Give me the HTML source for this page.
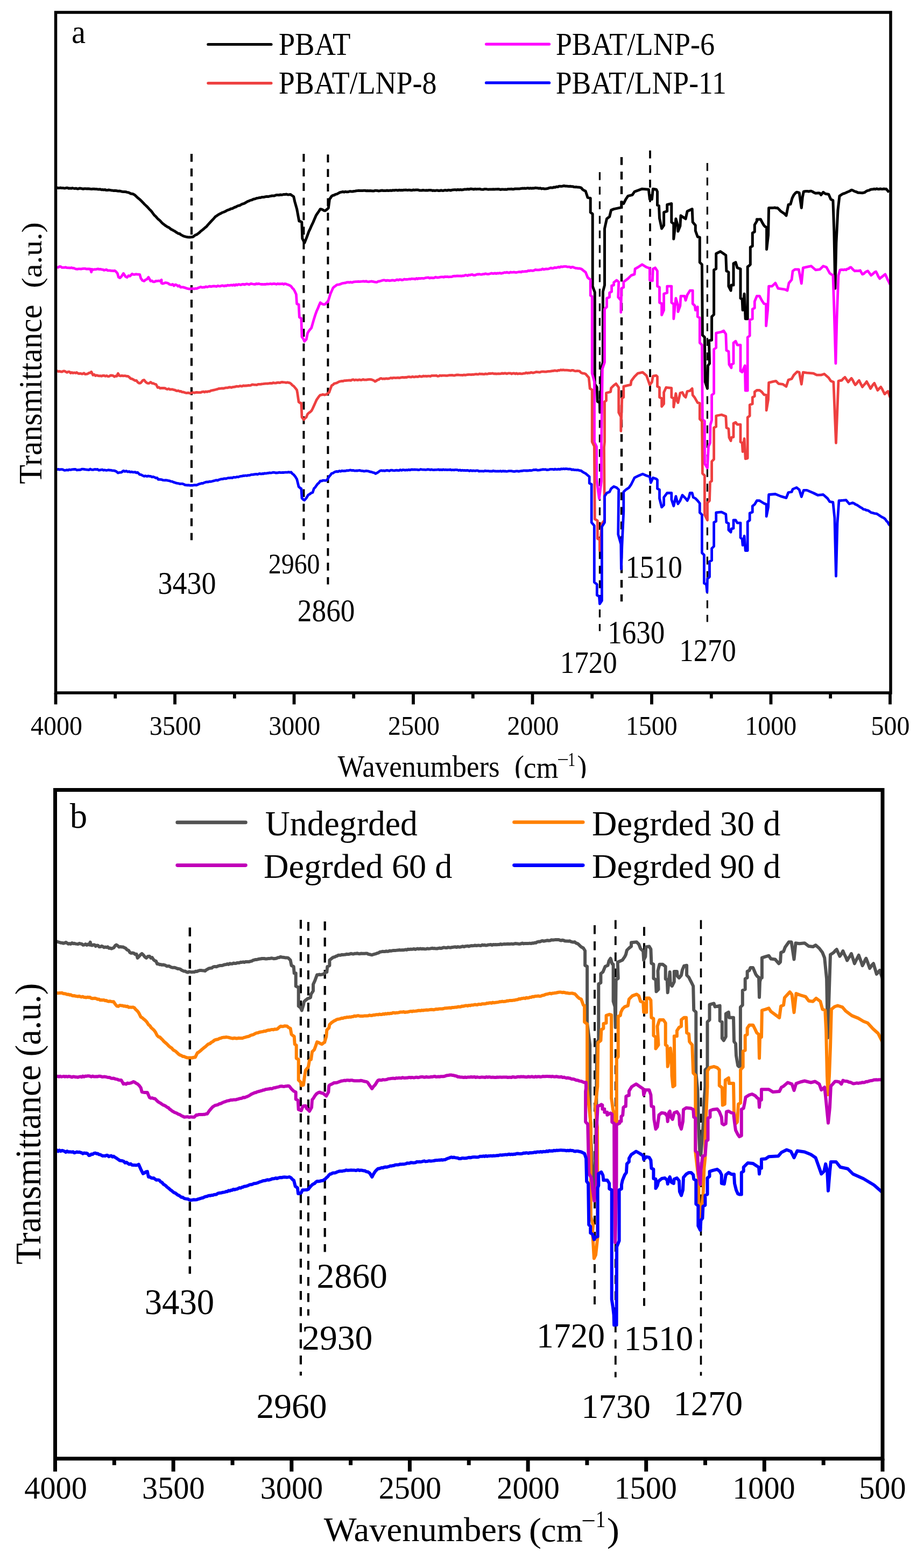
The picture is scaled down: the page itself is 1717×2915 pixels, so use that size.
<!DOCTYPE html><html><head><meta charset="utf-8"><title>FTIR spectra</title>
<style>html,body{margin:0;padding:0;background:#fff;}svg{display:block;}text{font-family:'Liberation Serif', 'Times New Roman', serif;fill:#000;}</style></head><body>
<svg width="1717" height="2915" viewBox="0 0 1717 2915">
<rect x="0" y="0" width="1717" height="2915" fill="#fff"/>
<line x1="355.9" y1="286.1" x2="355.9" y2="1004.3" stroke="#000" stroke-width="4.2" stroke-dasharray="14.7 12.4"/>
<line x1="564.4" y1="286.1" x2="564.4" y2="1003.4" stroke="#000" stroke-width="4.0" stroke-dasharray="14.7 12.4"/>
<line x1="609.4" y1="287.2" x2="609.4" y2="1086.4" stroke="#000" stroke-width="4.0" stroke-dasharray="14.7 12.4"/>
<line x1="1114.4" y1="320.0" x2="1114.4" y2="1173.3" stroke="#000" stroke-width="3.2" stroke-dasharray="14.7 12.4"/>
<line x1="1155.0" y1="292.0" x2="1155.0" y2="1118.3" stroke="#000" stroke-width="4.4" stroke-dasharray="14.7 12.4"/>
<line x1="1208.0" y1="279.8" x2="1208.0" y2="971.8" stroke="#000" stroke-width="3.8" stroke-dasharray="14.7 12.4"/>
<line x1="1314.4" y1="303.0" x2="1314.4" y2="1156.2" stroke="#000" stroke-width="3.2" stroke-dasharray="14.7 12.4"/>
<g id="curves-a">
<path d="M103.0,349.0 L105.2,348.7 L107.5,349.5 L109.7,349.5 L112.0,349.1 L114.2,349.4 L116.5,349.4 L118.7,349.7 L120.9,349.9 L123.2,349.3 L125.4,349.3 L127.7,350.2 L129.9,349.9 L132.2,350.3 L134.4,349.6 L136.6,350.1 L138.9,350.5 L141.1,350.1 L143.4,350.9 L145.6,350.9 L147.8,350.1 L150.1,350.2 L152.3,350.8 L154.6,351.3 L156.8,350.8 L159.1,350.7 L161.3,351.0 L163.5,350.7 L165.8,350.9 L168.0,351.2 L170.3,351.4 L172.5,351.2 L174.8,351.3 L177.0,351.6 L179.3,351.5 L181.6,351.9 L183.8,351.9 L186.1,351.8 L188.4,352.8 L190.7,352.6 L193.0,352.9 L195.2,352.6 L197.5,353.6 L199.8,353.6 L202.1,353.0 L204.4,353.4 L206.7,353.9 L208.9,354.1 L211.2,354.5 L213.5,354.2 L215.8,354.4 L218.1,355.1 L220.3,355.2 L222.6,355.1 L224.9,355.7 L227.2,356.2 L229.4,356.5 L231.7,356.4 L234.0,356.7 L236.2,357.5 L238.5,357.7 L240.7,358.7 L242.9,360.0 L245.1,360.3 L247.4,360.8 L249.6,361.9 L252.2,364.2 L254.8,366.6 L257.3,368.8 L259.9,370.9 L262.1,373.0 L264.3,375.3 L266.5,377.6 L268.8,380.0 L271.0,382.0 L273.2,384.1 L275.4,386.4 L277.6,389.0 L279.9,391.1 L282.1,393.7 L284.4,396.9 L286.6,399.8 L288.9,401.9 L291.1,404.3 L293.4,407.0 L296.0,409.0 L298.6,411.6 L301.1,414.4 L303.7,416.6 L306.3,418.6 L308.6,420.1 L310.9,421.8 L313.2,422.6 L315.5,424.3 L317.8,426.2 L320.1,427.3 L322.4,428.6 L324.7,429.8 L327.0,431.5 L329.2,432.7 L331.4,434.2 L333.6,434.3 L335.9,436.2 L338.1,437.4 L340.3,438.6 L342.5,439.3 L345.3,440.1 L348.2,440.7 L351.0,441.0 L353.3,440.9 L355.7,440.8 L358.0,440.6 L360.6,438.9 L363.1,436.9 L365.7,436.1 L368.3,434.1 L370.9,432.0 L373.4,429.5 L376.0,427.7 L378.6,425.5 L381.1,423.2 L383.7,421.2 L386.9,417.4 L390.0,414.0 L392.5,411.3 L395.1,408.6 L397.6,405.8 L400.1,402.9 L402.6,401.3 L405.1,399.4 L407.7,398.1 L410.2,396.8 L412.6,395.3 L415.0,394.5 L417.5,393.6 L419.9,392.3 L422.3,390.8 L424.6,390.2 L426.9,389.4 L429.2,387.9 L431.6,387.7 L433.9,386.6 L436.2,385.2 L438.5,384.7 L440.9,383.2 L443.2,382.2 L445.6,381.9 L448.0,380.4 L450.3,379.2 L452.7,378.6 L455.2,377.5 L457.8,375.9 L460.3,374.4 L462.8,373.6 L465.1,372.4 L467.5,371.9 L469.9,370.7 L472.2,370.0 L474.5,369.6 L476.9,368.5 L479.3,368.1 L481.7,367.6 L484.1,367.4 L486.5,366.6 L488.9,366.6 L491.2,366.2 L493.6,365.6 L496.0,365.2 L498.4,365.6 L500.8,364.9 L503.2,364.5 L505.4,363.9 L507.6,364.0 L509.8,364.0 L512.0,362.9 L514.2,362.6 L516.5,362.5 L518.7,362.7 L520.9,361.9 L523.1,362.2 L525.3,361.9 L527.5,361.4 L529.9,361.4 L532.3,361.1 L534.8,361.9 L537.2,361.7 L539.6,361.4 L542.7,363.5 L545.7,365.5 L547.7,374.6 L551.7,388.7 L555.8,411.0 L558.3,411.7 L560.8,413.0 L561.8,443.3 L565.9,451.4 L569.9,441.3 L574.0,430.2 L576.7,424.6 L579.3,418.6 L582.0,413.0 L584.5,407.0 L587.1,400.9 L589.8,396.7 L592.5,392.9 L595.2,388.7 L597.5,389.0 L599.8,390.0 L602.0,391.5 L604.3,391.8 L607.3,389.6 L610.3,386.7 L612.4,370.5 L616.4,364.5 L618.7,363.3 L621.0,362.8 L623.3,361.3 L625.7,360.9 L628.0,359.7 L630.3,358.3 L632.6,357.4 L634.9,357.0 L637.1,356.5 L639.4,357.2 L641.7,356.2 L644.0,356.8 L646.2,356.7 L648.5,356.2 L650.8,355.6 L653.1,356.1 L655.4,356.0 L657.6,355.5 L659.9,355.2 L662.2,354.8 L664.5,354.6 L666.7,354.3 L669.0,354.4 L671.3,354.6 L673.7,354.4 L676.0,354.2 L678.3,354.2 L680.7,354.8 L683.0,354.5 L685.3,354.7 L687.7,354.6 L690.0,354.8 L692.2,355.1 L694.5,355.1 L696.7,354.2 L698.9,354.3 L701.2,354.4 L703.4,355.0 L705.6,354.7 L707.9,354.2 L710.1,354.0 L712.4,354.5 L714.6,354.6 L716.8,354.6 L719.1,354.0 L721.3,354.5 L723.5,354.2 L725.8,354.0 L728.0,354.4 L730.2,353.6 L732.5,354.0 L734.7,353.4 L736.9,353.4 L739.2,354.1 L741.4,353.3 L743.7,353.8 L745.9,353.6 L748.1,353.8 L750.4,353.3 L752.6,353.2 L754.8,353.1 L757.1,353.6 L759.3,353.2 L761.5,353.3 L763.7,353.7 L766.0,353.7 L768.2,353.0 L770.4,353.4 L772.6,353.0 L774.8,353.0 L777.1,353.1 L779.3,353.9 L781.5,353.9 L783.7,354.0 L786.0,353.5 L788.2,353.8 L790.4,354.0 L792.6,353.7 L794.8,353.9 L797.1,353.6 L799.3,353.5 L801.5,353.7 L803.7,354.4 L806.0,354.1 L808.2,354.5 L810.4,354.1 L812.6,353.9 L814.8,354.5 L817.1,354.5 L819.3,353.8 L821.5,354.3 L823.8,354.4 L826.0,353.7 L828.3,353.6 L830.6,354.2 L832.8,353.3 L835.1,353.4 L837.3,354.0 L839.6,353.3 L841.9,352.9 L844.1,352.8 L846.4,352.8 L848.7,353.2 L850.9,352.4 L853.2,353.1 L855.5,352.5 L857.7,353.0 L860.0,352.8 L862.3,352.1 L864.5,351.9 L866.8,352.0 L869.0,351.5 L871.3,352.0 L873.6,351.3 L875.8,351.1 L878.1,351.5 L880.4,352.0 L882.6,351.3 L884.9,351.7 L887.2,351.5 L889.4,351.4 L891.7,351.2 L893.9,352.1 L896.2,352.2 L898.5,352.2 L900.7,351.4 L903.0,351.5 L905.3,351.9 L907.5,352.3 L909.8,351.9 L912.1,352.0 L914.3,352.0 L916.6,351.7 L918.9,352.0 L921.1,351.8 L923.4,351.7 L925.6,351.6 L927.9,351.8 L930.2,352.5 L932.4,352.0 L934.7,352.1 L936.9,352.2 L939.2,352.1 L941.4,352.3 L943.6,351.6 L945.8,351.4 L948.1,351.4 L950.3,351.3 L952.5,351.7 L954.7,351.7 L957.0,351.0 L959.2,350.9 L961.4,351.0 L963.6,351.0 L965.9,350.9 L968.1,350.5 L970.3,350.1 L972.5,350.3 L974.8,350.0 L977.0,350.4 L979.2,349.8 L981.4,349.7 L983.6,350.2 L985.9,349.8 L988.1,350.2 L990.3,349.8 L992.5,350.0 L994.8,349.2 L997.0,349.5 L999.4,349.8 L1001.7,350.3 L1004.1,349.8 L1006.5,350.9 L1008.8,350.4 L1011.2,351.0 L1013.5,350.9 L1015.8,350.8 L1018.1,350.3 L1020.4,349.4 L1022.7,348.8 L1025.0,348.9 L1027.3,348.9 L1029.6,347.9 L1031.9,348.2 L1034.2,347.1 L1036.5,347.5 L1038.8,346.3 L1041.1,346.2 L1043.4,346.4 L1045.7,346.0 L1048.0,345.3 L1050.3,346.0 L1052.6,346.1 L1054.9,346.3 L1057.2,346.5 L1059.5,346.3 L1061.9,346.8 L1064.2,346.7 L1066.5,347.6 L1068.8,347.8 L1071.1,347.6 L1073.4,348.1 L1076.7,348.2 L1080.0,349.2 L1082.4,352.0 L1084.8,353.8 L1088.1,355.3 L1092.1,367.4 L1097.2,368.4 L1097.2,394.7 L1101.2,397.7 L1101.2,532.1 L1105.3,543.3 L1105.3,714.1 L1109.3,720.1 L1110.3,746.4 L1114.4,748.4 L1114.8,766.6 L1118.4,681.7 L1120.4,673.6 L1120.4,542.2 L1123.5,530.1 L1123.5,425.0 L1127.5,406.8 L1132.6,402.8 L1135.6,390.6 L1140.6,388.6 L1154.8,385.6 L1154.8,375.5 L1158.8,378.5 L1162.9,370.4 L1166.9,364.4 L1175.0,362.3 L1179.0,356.3 L1193.2,351.2 L1205.3,352.2 L1207.4,370.4 L1211.4,370.4 L1213.4,351.2 L1219.5,352.2 L1221.5,356.3 L1221.5,381.5 L1224.5,382.6 L1225.5,405.8 L1229.6,425.0 L1233.6,418.9 L1233.6,394.7 L1239.7,392.7 L1239.7,380.5 L1247.8,378.5 L1247.8,412.9 L1251.8,415.9 L1251.8,444.2 L1254.9,418.9 L1255.9,406.8 L1259.9,421.0 L1259.9,430.1 L1263.9,420.0 L1265.0,400.8 L1274.1,406.8 L1277.1,392.7 L1286.2,388.6 L1287.2,412.9 L1292.3,418.9 L1292.3,429.0 L1296.3,440.2 L1300.3,441.2 L1300.3,487.7 L1304.4,491.7 L1305.4,623.1 L1309.4,627.1 L1310.4,710.0 L1314.5,722.2 L1315.5,679.7 L1318.5,675.7 L1317.5,633.2 L1322.6,632.2 L1322.6,588.7 L1326.6,584.7 L1326.6,501.8 L1330.7,499.8 L1330.7,471.5 L1338.7,467.5 L1348.8,474.5 L1349.9,503.8 L1353.9,505.9 L1353.9,532.1 L1358.0,540.2 L1359.0,530.1 L1363.0,530.1 L1363.0,489.7 L1367.0,487.7 L1370.0,497.8 L1376.0,499.8 L1376.0,554.4 L1379.1,556.4 L1380.1,576.6 L1383.1,546.3 L1385.2,592.8 L1389.2,592.8 L1389.2,495.8 L1391.8,494.1 L1394.3,491.7 L1394.3,459.4 L1398.3,457.4 L1398.3,433.1 L1402.3,431.1 L1402.3,417.9 L1406.4,410.9 L1406.4,407.8 L1408.8,407.9 L1411.1,407.8 L1413.5,407.8 L1416.5,413.9 L1419.5,418.9 L1422.0,421.4 L1424.6,423.0 L1424.6,463.4 L1427.6,437.1 L1428.6,386.6 L1430.9,386.5 L1433.2,386.5 L1435.5,386.4 L1437.9,386.3 L1440.2,386.0 L1442.5,386.8 L1444.8,386.6 L1447.8,389.6 L1450.9,392.7 L1453.9,394.8 L1456.9,396.7 L1461.0,400.8 L1465.0,380.5 L1469.0,379.5 L1472.1,368.4 L1475.1,362.3 L1477.7,359.3 L1480.2,357.3 L1482.7,357.6 L1485.2,358.3 L1489.3,386.6 L1491.3,366.4 L1493.3,356.3 L1495.7,355.7 L1498.0,355.5 L1500.4,355.5 L1502.8,356.0 L1505.1,355.3 L1507.5,355.3 L1510.2,356.5 L1512.8,358.1 L1515.5,359.3 L1518.2,359.0 L1520.9,358.7 L1523.6,359.3 L1525.6,362.3 L1529.7,357.3 L1533.7,360.3 L1536.8,360.8 L1539.8,361.3 L1543.8,370.4 L1547.9,372.5 L1549.9,431.1 L1551.9,536.2 L1553.9,451.3 L1557.0,390.6 L1560.0,364.4 L1563.0,362.4 L1566.1,360.3 L1569.1,359.5 L1572.1,358.3 L1574.6,357.0 L1577.2,356.0 L1579.7,354.8 L1582.2,353.2 L1584.6,353.9 L1587.1,355.2 L1589.5,356.2 L1592.0,357.0 L1594.4,358.3 L1596.9,358.2 L1599.5,358.4 L1602.0,358.8 L1604.5,358.3 L1607.2,357.5 L1609.9,355.4 L1612.6,354.3 L1615.0,353.9 L1617.4,352.5 L1619.9,351.9 L1622.3,351.8 L1624.7,351.2 L1626.9,351.7 L1629.1,350.8 L1631.4,351.5 L1633.6,351.7 L1635.8,351.0 L1638.0,351.4 L1640.2,351.6 L1642.5,351.0 L1644.7,351.4 L1646.9,351.2 L1649.5,354.5 L1652.0,357.3" fill="none" stroke="#000000" stroke-width="5.00" stroke-linejoin="round" stroke-linecap="butt"/>
<path d="M104.0,495.8 L106.2,496.9 L108.4,497.1 L110.6,495.5 L112.8,495.7 L115.0,497.4 L117.3,497.4 L119.5,497.4 L121.7,496.9 L123.9,497.6 L126.1,497.8 L128.3,497.8 L130.5,498.2 L132.7,497.6 L135.0,498.4 L137.2,498.5 L139.4,499.4 L141.6,500.2 L143.8,500.4 L146.1,499.8 L148.3,499.8 L150.5,500.2 L153.0,499.7 L155.5,499.3 L158.0,499.3 L160.5,500.1 L163.0,499.8 L165.5,500.0 L168.0,500.2 L169.7,505.9 L171.0,500.5 L173.2,501.4 L175.4,500.7 L177.7,500.9 L179.9,500.3 L182.1,499.9 L184.3,500.6 L186.6,500.3 L188.8,501.1 L191.0,501.2 L193.2,502.4 L195.4,501.9 L197.7,501.2 L199.9,502.8 L202.1,502.8 L204.3,502.9 L206.5,503.4 L208.8,503.3 L211.0,503.6 L213.2,503.2 L215.8,505.2 L218.3,508.3 L220.3,515.4 L222.8,516.6 L225.3,514.4 L229.4,508.3 L233.4,514.4 L236.1,515.7 L238.8,512.5 L241.5,513.4 L245.5,509.3 L247.9,510.4 L250.2,510.4 L252.6,509.7 L255.0,510.1 L257.3,510.1 L259.7,510.3 L261.7,517.4 L264.8,521.5 L267.8,522.5 L270.5,520.1 L273.2,519.0 L275.9,515.4 L279.9,522.5 L282.3,522.0 L284.7,523.9 L287.2,523.9 L289.6,522.4 L292.0,522.5 L294.7,522.0 L297.4,522.6 L300.1,520.4 L300.1,526.5 L302.5,527.3 L304.9,526.5 L307.4,525.5 L309.8,525.9 L312.2,526.5 L315.2,528.7 L318.3,529.5 L320.8,528.4 L323.4,531.3 L325.9,529.1 L328.4,530.1 L330.8,532.3 L333.1,530.9 L335.5,534.0 L337.9,533.8 L340.2,533.9 L342.6,534.6 L345.3,535.4 L348.0,536.4 L350.7,537.0 L353.2,537.1 L355.8,536.7 L358.3,536.5 L360.8,537.0 L363.3,536.3 L365.9,536.3 L368.4,535.1 L370.9,534.2 L373.2,533.3 L375.5,534.4 L377.8,534.0 L380.1,534.2 L382.4,532.8 L384.7,533.6 L387.0,533.0 L389.6,532.1 L392.2,532.9 L394.8,532.2 L397.4,531.9 L400.0,532.2 L402.3,532.7 L404.6,531.3 L406.9,531.8 L409.2,532.2 L411.5,531.1 L413.9,530.9 L416.2,531.9 L418.5,531.0 L420.8,531.3 L423.1,530.1 L425.4,530.7 L427.6,530.3 L429.8,529.9 L432.0,530.5 L434.2,529.4 L436.5,530.7 L438.7,529.0 L440.9,530.0 L443.1,528.7 L445.3,529.0 L447.5,529.7 L449.7,528.5 L451.9,528.4 L454.2,529.1 L456.4,528.4 L458.6,527.7 L460.8,528.3 L463.0,529.1 L465.2,527.7 L467.4,527.5 L469.6,528.0 L471.8,528.4 L474.0,528.5 L476.2,527.5 L478.5,527.8 L480.7,527.3 L482.9,528.0 L485.1,528.5 L487.3,528.4 L489.5,528.6 L491.7,528.4 L493.9,528.5 L496.1,527.9 L498.3,528.2 L500.5,527.9 L502.7,527.5 L505.0,528.2 L507.2,527.6 L509.4,527.3 L511.6,527.8 L513.8,528.5 L516.0,527.3 L518.2,528.0 L520.4,527.7 L522.6,527.9 L524.9,527.3 L527.1,528.6 L529.3,527.5 L531.5,527.9 L533.9,529.0 L536.2,529.6 L538.6,530.7 L541.0,532.3 L543.3,535.5 L545.7,537.8 L548.0,541.9 L550.4,547.2 L551.6,564.9 L555.1,566.1 L556.3,589.7 L559.8,592.0 L561.0,626.2 L563.4,629.6 L565.7,634.5 L569.2,630.9 L571.6,619.2 L574.0,615.3 L576.3,612.3 L578.7,609.7 L583.4,593.2 L585.8,585.5 L588.1,579.1 L590.5,573.8 L592.8,568.0 L595.2,562.5 L597.6,564.5 L599.9,565.6 L602.3,566.1 L604.6,565.3 L607.0,562.5 L609.3,561.4 L614.1,546.0 L616.5,540.6 L618.8,535.4 L621.1,533.0 L623.5,531.6 L625.8,529.5 L628.2,529.1 L630.5,528.8 L632.9,528.1 L635.3,526.8 L637.6,526.5 L640.0,526.0 L642.4,525.8 L644.7,524.8 L647.1,524.7 L649.4,525.1 L651.8,524.4 L654.1,525.2 L656.5,524.2 L658.9,523.8 L661.2,523.7 L663.6,523.6 L665.9,523.3 L668.3,523.6 L670.6,523.3 L673.0,523.2 L675.4,522.9 L677.9,523.4 L680.3,522.7 L682.7,523.7 L685.1,523.8 L687.6,523.4 L690.0,523.0 L692.5,523.3 L695.0,523.9 L697.5,524.4 L700.0,524.7 L702.5,523.2 L705.0,523.0 L707.5,522.3 L710.0,521.5 L712.4,520.9 L714.8,520.8 L717.1,521.9 L719.5,521.1 L721.9,521.3 L724.3,521.9 L726.6,521.4 L729.0,520.8 L731.4,521.1 L733.6,521.7 L735.9,520.6 L738.1,519.9 L740.3,520.8 L742.5,519.7 L744.8,519.9 L747.0,520.6 L749.2,520.2 L751.5,519.0 L753.7,519.5 L755.9,519.3 L758.1,519.3 L760.4,518.7 L762.6,519.1 L764.8,518.1 L767.1,518.3 L769.3,518.3 L771.5,519.1 L773.8,517.5 L776.0,518.5 L778.2,517.4 L780.4,517.9 L782.7,517.4 L784.9,517.4 L787.1,517.7 L789.4,517.0 L791.6,516.4 L793.8,516.2 L796.0,516.0 L798.3,517.1 L800.5,516.4 L802.7,516.5 L804.9,516.8 L807.1,516.3 L809.3,515.1 L811.5,515.9 L813.7,516.0 L816.0,515.7 L818.2,515.2 L820.4,514.9 L822.6,514.9 L824.8,515.3 L827.0,514.3 L829.2,514.6 L831.4,514.3 L833.6,515.0 L835.8,514.6 L838.0,514.6 L840.2,514.3 L842.5,513.3 L844.7,513.1 L846.9,513.4 L849.1,512.8 L851.3,513.0 L853.5,513.2 L855.7,512.8 L857.9,513.3 L860.1,512.6 L862.3,512.8 L864.5,511.5 L866.8,511.7 L869.0,512.6 L871.2,511.1 L873.4,511.4 L875.6,510.6 L877.8,510.5 L880.0,511.6 L882.2,511.6 L884.5,510.9 L886.7,509.9 L888.9,510.0 L891.1,509.7 L893.3,510.3 L895.5,510.1 L897.7,509.6 L899.9,509.6 L902.2,508.7 L904.4,509.3 L906.6,509.7 L908.8,509.3 L911.0,508.7 L913.2,507.9 L915.4,508.5 L917.6,508.6 L919.8,507.8 L922.0,508.7 L924.2,507.8 L926.5,508.1 L928.7,507.5 L930.9,508.3 L933.1,507.8 L935.3,507.4 L937.5,506.5 L939.7,506.9 L941.9,506.1 L944.1,506.9 L946.3,507.2 L948.5,505.9 L950.7,506.3 L953.0,506.2 L955.2,505.9 L957.4,506.3 L959.6,506.5 L961.8,506.0 L964.0,505.5 L966.2,505.4 L968.4,505.9 L970.6,504.6 L972.8,505.0 L975.0,504.6 L977.3,504.5 L979.5,504.4 L981.7,503.2 L983.9,503.5 L986.1,502.9 L988.3,503.1 L990.5,503.3 L992.7,502.5 L995.0,501.3 L997.2,501.8 L999.4,501.9 L1001.6,501.9 L1003.8,501.3 L1006.0,501.3 L1008.2,499.8 L1010.4,501.0 L1012.7,500.4 L1014.9,499.9 L1017.1,500.2 L1019.3,499.9 L1021.5,499.0 L1023.8,498.1 L1026.1,498.9 L1028.4,498.5 L1030.7,497.3 L1033.0,497.9 L1035.3,497.3 L1037.6,496.4 L1039.9,497.1 L1042.2,495.7 L1044.5,496.2 L1046.8,495.6 L1049.1,495.4 L1051.4,495.3 L1053.7,496.1 L1056.0,496.2 L1058.3,496.1 L1060.6,497.6 L1062.9,496.5 L1065.2,496.7 L1067.5,497.8 L1069.8,498.6 L1072.1,498.7 L1074.4,499.1 L1076.7,499.0 L1080.0,499.8 L1082.7,501.8 L1085.4,504.1 L1088.1,505.9 L1092.1,516.0 L1097.2,520.0 L1097.2,549.3 L1100.2,551.3 L1100.2,693.9 L1104.5,710.0 L1104.5,822.0 L1108.5,830.0 L1108.5,890.0 L1113.4,927.0 L1117.5,895.0 L1117.5,830.0 L1119.4,685.8 L1123.5,673.6 L1123.5,574.6 L1127.5,570.5 L1127.5,554.4 L1132.6,552.4 L1132.6,544.3 L1136.6,542.2 L1136.6,531.1 L1140.6,530.1 L1140.6,525.1 L1145.7,521.0 L1149.7,524.1 L1148.7,552.4 L1153.8,558.4 L1153.8,580.7 L1154.8,536.2 L1158.8,534.2 L1158.8,524.1 L1166.9,518.0 L1173.0,511.9 L1179.0,509.9 L1180.1,499.8 L1187.1,495.8 L1193.2,491.7 L1201.3,496.8 L1207.4,498.8 L1207.4,521.0 L1212.4,522.0 L1213.4,499.8 L1217.5,497.8 L1221.5,503.8 L1221.5,532.1 L1225.5,534.2 L1225.5,562.5 L1229.6,564.5 L1229.6,585.7 L1233.6,576.6 L1233.6,546.3 L1239.7,544.3 L1239.7,532.1 L1247.8,532.1 L1247.8,562.5 L1251.8,565.5 L1251.8,592.8 L1255.9,554.4 L1259.9,568.5 L1259.9,579.6 L1263.9,568.5 L1265.0,550.3 L1272.0,550.3 L1274.1,558.4 L1277.1,548.3 L1282.1,540.2 L1287.2,540.2 L1287.2,564.5 L1291.2,568.5 L1292.3,576.6 L1296.3,570.5 L1296.3,588.7 L1300.3,590.8 L1300.3,637.3 L1304.4,641.3 L1305.4,780.0 L1309.4,783.0 L1309.4,862.0 L1314.5,870.0 L1316.5,830.0 L1319.5,823.5 L1320.0,790.0 L1322.6,781.0 L1322.6,734.3 L1326.6,731.3 L1326.6,649.4 L1330.7,646.4 L1330.7,619.1 L1340.8,617.0 L1344.8,615.0 L1348.8,621.1 L1349.9,651.4 L1353.9,653.4 L1354.9,677.7 L1359.0,683.8 L1359.0,677.7 L1363.0,675.7 L1363.0,637.3 L1367.0,634.2 L1370.0,641.3 L1376.0,641.3 L1376.0,689.8 L1379.1,691.8 L1384.2,679.7 L1385.2,726.2 L1389.2,726.2 L1389.2,627.1 L1393.2,624.1 L1393.2,594.8 L1398.3,592.8 L1398.3,574.6 L1402.3,572.6 L1402.3,560.4 L1406.4,550.3 L1411.4,550.3 L1415.5,558.4 L1419.5,564.5 L1423.6,565.5 L1423.6,605.9 L1426.6,576.6 L1428.6,532.1 L1434.7,532.1 L1440.8,526.1 L1445.8,536.2 L1458.9,538.2 L1463.0,540.2 L1466.0,526.1 L1471.1,520.0 L1473.1,503.8 L1477.1,500.8 L1484.2,500.8 L1489.3,527.1 L1492.3,497.8 L1501.4,495.8 L1507.5,494.7 L1515.5,501.8 L1523.6,500.8 L1529.7,494.7 L1535.8,496.8 L1541.8,507.9 L1547.9,511.9 L1549.9,572.6 L1552.9,675.7 L1555.0,592.8 L1558.0,511.9 L1561.0,501.8 L1563.2,501.5 L1565.4,501.4 L1567.7,501.8 L1569.9,501.0 L1572.1,501.8 L1574.4,499.9 L1576.7,499.7 L1578.9,497.5 L1581.2,496.8 L1583.6,499.5 L1585.9,501.9 L1588.3,503.8 L1590.8,503.4 L1593.3,503.6 L1595.9,503.5 L1598.4,502.8 L1602.5,509.9 L1605.0,509.0 L1607.5,506.3 L1610.1,504.8 L1612.6,503.8 L1615.6,507.7 L1618.6,511.9 L1620.9,510.1 L1623.2,508.1 L1625.4,505.9 L1627.7,504.9 L1630.1,509.4 L1632.4,514.4 L1634.8,518.0 L1637.3,515.8 L1639.8,514.0 L1642.4,511.7 L1644.9,509.9 L1647.2,514.6 L1649.5,520.1 L1651.7,524.0 L1654.0,529.1" fill="none" stroke="#ff00ff" stroke-width="4.80" stroke-linejoin="round" stroke-linecap="butt"/>
<path d="M104.0,690.2 L106.3,689.6 L108.5,690.6 L110.8,690.2 L113.1,691.0 L115.4,691.2 L117.7,689.8 L119.9,689.8 L122.2,691.2 L124.5,692.3 L126.7,691.1 L129.0,691.2 L131.2,693.5 L133.5,692.3 L135.8,693.5 L138.0,692.8 L140.3,693.5 L142.5,692.5 L144.8,694.0 L147.0,694.8 L149.3,694.2 L151.6,695.0 L153.8,695.0 L156.1,693.7 L158.3,695.7 L160.6,695.3 L163.1,694.8 L165.5,693.2 L168.0,693.0 L169.7,691.2 L172.8,697.3 L175.1,696.2 L177.4,698.5 L179.6,697.6 L181.9,698.4 L184.2,698.9 L186.4,698.6 L188.7,699.3 L191.0,698.3 L193.4,698.1 L195.8,699.3 L198.1,698.4 L200.5,699.8 L202.9,699.7 L205.3,697.8 L207.7,698.0 L210.1,698.3 L212.4,700.3 L214.8,699.0 L217.2,699.3 L219.3,694.3 L222.0,698.5 L224.2,698.9 L226.4,698.2 L228.6,698.9 L230.9,698.7 L233.1,698.7 L235.3,699.4 L237.5,699.3 L240.2,701.2 L242.8,703.8 L245.5,704.4 L248.2,705.9 L250.9,707.5 L253.6,707.4 L256.1,710.8 L258.7,712.4 L261.0,712.2 L263.2,709.8 L265.5,707.0 L267.8,706.4 L270.8,710.3 L273.8,712.4 L276.9,712.6 L279.9,710.4 L282.4,712.5 L284.9,712.6 L287.5,714.0 L290.0,714.5 L293.0,720.5 L295.3,720.0 L297.6,721.9 L299.8,721.4 L302.1,721.5 L304.4,721.5 L306.6,721.6 L308.9,723.0 L311.1,723.6 L313.4,722.6 L315.6,724.0 L317.9,723.8 L320.1,723.8 L322.4,724.6 L324.6,724.9 L326.9,726.1 L329.1,726.8 L331.4,726.2 L333.6,727.5 L335.9,727.3 L338.1,728.8 L340.4,728.8 L342.6,729.6 L345.0,730.3 L347.4,730.7 L349.9,730.2 L352.3,731.1 L354.7,730.6 L357.0,730.2 L359.3,729.7 L361.6,730.3 L364.0,729.4 L366.3,729.5 L368.6,729.6 L370.9,729.6 L373.2,729.5 L375.5,728.5 L377.8,728.1 L380.1,729.0 L382.4,727.9 L384.7,728.5 L387.0,727.6 L389.6,727.5 L392.2,726.2 L394.8,725.7 L397.4,725.1 L400.0,724.5 L403.2,723.7 L406.5,722.5 L408.9,722.4 L411.2,722.0 L413.6,721.9 L415.9,722.0 L418.3,721.2 L420.7,720.8 L423.0,720.9 L425.4,720.0 L427.8,719.8 L430.1,720.5 L432.5,719.6 L434.8,719.3 L437.2,719.0 L439.4,718.1 L441.6,718.4 L443.8,718.4 L446.0,717.4 L448.2,718.0 L450.4,717.8 L452.6,716.8 L454.9,717.4 L457.1,716.9 L459.3,717.0 L461.5,716.3 L463.7,716.6 L465.9,716.4 L468.1,715.2 L470.3,715.0 L472.5,715.4 L474.9,715.4 L477.2,715.6 L479.6,714.4 L481.9,714.4 L484.3,714.4 L486.7,713.8 L489.0,713.6 L491.4,713.3 L493.7,713.1 L496.1,713.1 L498.5,713.0 L500.8,712.5 L503.2,712.4 L505.5,712.7 L507.9,711.5 L510.3,712.1 L512.6,712.1 L515.0,711.4 L517.4,711.1 L519.7,711.7 L522.1,710.7 L524.4,710.4 L526.8,710.7 L529.2,710.8 L531.5,711.5 L533.9,710.9 L536.2,711.4 L538.6,711.9 L541.0,713.6 L543.3,716.3 L545.7,717.8 L548.7,721.3 L551.6,724.9 L552.7,730.8 L555.1,747.3 L557.5,748.9 L559.8,749.6 L561.0,775.6 L564.5,780.3 L566.9,777.5 L569.2,775.6 L571.6,769.7 L574.0,767.5 L576.3,766.0 L578.7,763.8 L581.0,759.6 L583.4,754.3 L585.8,748.9 L588.1,743.7 L590.5,740.2 L592.8,736.9 L595.2,734.3 L597.6,734.1 L599.9,733.4 L602.3,734.0 L604.6,733.8 L607.0,733.1 L609.4,730.9 L611.7,729.6 L614.0,722.8 L616.4,716.6 L618.8,715.3 L621.1,713.1 L623.5,712.5 L625.8,711.9 L628.2,710.5 L630.6,709.4 L632.9,708.8 L635.3,708.3 L637.7,708.5 L640.0,707.6 L642.4,707.5 L644.7,707.3 L647.1,707.1 L649.4,706.9 L651.8,707.4 L654.1,706.1 L656.5,705.7 L658.8,706.8 L661.2,706.0 L663.4,706.5 L665.6,706.6 L667.8,705.8 L670.1,706.5 L672.3,706.4 L674.5,705.4 L676.7,706.1 L678.9,706.2 L681.1,706.0 L683.4,705.7 L685.6,705.4 L687.8,705.4 L690.0,705.6 L692.3,706.4 L694.6,707.4 L696.9,709.2 L699.2,708.0 L701.5,706.3 L703.7,705.7 L706.0,704.0 L708.3,703.3 L710.6,704.4 L713.0,704.0 L715.3,704.3 L717.6,703.6 L719.8,704.0 L722.0,703.9 L724.2,703.3 L726.4,702.4 L728.7,703.2 L730.9,702.3 L733.1,702.3 L735.3,702.7 L737.5,702.4 L739.7,702.1 L741.9,702.7 L744.1,702.1 L746.4,701.6 L748.6,701.3 L750.8,702.0 L753.0,701.3 L755.2,701.6 L757.4,700.9 L759.6,700.5 L761.8,700.8 L764.1,701.1 L766.3,700.1 L768.5,700.8 L770.7,700.8 L772.9,700.1 L775.1,700.5 L777.4,700.4 L779.6,699.2 L781.9,700.0 L784.1,700.2 L786.3,699.0 L788.6,699.3 L790.8,699.2 L793.0,699.5 L795.3,699.2 L797.5,699.2 L799.8,699.6 L802.0,698.4 L804.2,698.4 L806.5,698.4 L808.7,698.4 L810.9,698.2 L813.2,699.4 L815.4,699.2 L817.7,698.0 L819.9,698.5 L822.1,698.2 L824.4,698.1 L826.6,698.1 L828.8,698.4 L831.1,698.3 L833.3,697.9 L835.6,697.5 L837.8,697.7 L840.0,697.3 L842.3,697.8 L844.5,698.0 L846.7,697.4 L849.0,696.9 L851.2,697.0 L853.5,697.2 L855.7,697.3 L857.9,697.3 L860.1,697.5 L862.3,696.8 L864.5,697.3 L866.8,696.9 L869.0,696.5 L871.2,696.3 L873.4,696.4 L875.6,696.6 L877.8,696.1 L880.0,696.3 L882.2,695.9 L884.5,695.5 L886.7,695.8 L888.9,695.9 L891.1,694.9 L893.3,695.3 L895.5,695.2 L897.7,695.7 L899.9,695.7 L902.2,694.8 L904.4,695.4 L906.6,695.1 L908.8,694.3 L911.0,694.5 L913.2,694.4 L915.4,694.0 L917.6,694.9 L919.8,694.7 L922.0,695.0 L924.2,694.9 L926.5,694.7 L928.7,694.8 L930.9,694.6 L933.1,693.9 L935.3,694.6 L937.5,693.8 L939.7,694.0 L941.9,694.9 L944.1,693.9 L946.3,693.9 L948.5,693.9 L950.7,695.0 L953.0,694.1 L955.2,693.8 L957.4,695.0 L959.6,694.0 L961.8,695.0 L964.0,694.7 L966.2,694.5 L968.5,694.8 L970.8,694.8 L973.1,694.1 L975.4,694.2 L977.7,692.9 L980.0,693.8 L982.4,693.2 L984.7,693.3 L987.0,692.3 L989.3,693.0 L991.6,693.1 L993.9,692.3 L996.2,691.5 L998.5,691.7 L1000.8,691.9 L1003.1,692.1 L1005.4,691.1 L1007.7,690.9 L1010.0,690.8 L1012.3,691.2 L1014.6,691.2 L1016.9,690.6 L1019.2,690.4 L1021.5,690.4 L1023.8,690.0 L1026.0,689.7 L1028.3,689.5 L1030.6,688.8 L1032.8,689.1 L1035.1,689.5 L1037.3,688.5 L1039.6,688.7 L1041.9,687.6 L1044.1,688.1 L1046.4,687.6 L1048.7,688.1 L1051.1,688.2 L1053.4,688.1 L1055.7,688.3 L1058.1,688.6 L1060.4,689.2 L1062.7,688.3 L1065.0,688.4 L1067.4,689.5 L1069.7,689.9 L1072.0,689.5 L1074.4,689.6 L1076.7,689.8 L1080.0,693.1 L1082.7,694.1 L1085.4,694.1 L1088.1,695.2 L1094.2,702.2 L1096.2,722.4 L1100.2,724.5 L1100.2,821.5 L1104.3,829.6 L1105.3,965.0 L1110.3,968.1 L1110.3,1001.4 L1114.4,1003.4 L1114.4,1023.6 L1118.4,973.1 L1123.5,967.1 L1122.5,831.6 L1123.5,821.5 L1123.5,746.7 L1126.5,744.7 L1126.5,730.5 L1134.6,728.5 L1135.6,721.4 L1140.6,716.4 L1144.7,713.4 L1149.7,720.4 L1149.7,766.9 L1153.8,775.0 L1153.8,801.3 L1155.8,740.6 L1158.8,738.6 L1158.8,718.4 L1166.9,716.4 L1172.0,715.4 L1173.0,708.3 L1179.0,700.2 L1185.1,694.1 L1194.2,692.1 L1201.3,698.2 L1207.4,715.4 L1211.4,710.3 L1213.4,699.2 L1219.5,698.2 L1221.5,700.2 L1221.5,718.4 L1225.5,720.4 L1225.5,738.6 L1229.6,740.6 L1229.6,755.8 L1233.6,750.8 L1233.6,729.5 L1237.7,720.4 L1247.8,721.4 L1247.8,738.6 L1251.8,740.6 L1251.8,756.8 L1255.9,731.5 L1257.9,744.7 L1259.9,748.7 L1263.9,730.5 L1268.0,729.5 L1271.0,735.6 L1274.1,738.6 L1277.1,727.5 L1282.1,726.5 L1286.2,722.4 L1287.2,734.6 L1291.2,739.6 L1296.3,748.7 L1300.3,749.7 L1300.3,779.0 L1304.4,783.1 L1305.4,880.1 L1309.4,884.2 L1309.4,956.9 L1314.5,967.0 L1314.5,934.7 L1318.5,930.7 L1319.5,896.3 L1322.6,894.3 L1322.6,857.9 L1326.6,853.8 L1326.6,795.2 L1330.7,793.2 L1330.7,773.0 L1340.8,771.0 L1348.8,774.0 L1349.9,795.2 L1353.9,797.2 L1354.9,813.4 L1358.0,819.5 L1359.0,813.4 L1363.0,812.4 L1363.0,787.1 L1367.0,785.1 L1370.0,789.2 L1376.0,789.2 L1376.0,821.5 L1379.1,823.5 L1380.1,839.7 L1383.1,815.4 L1385.2,852.8 L1389.2,851.8 L1389.2,776.0 L1393.2,773.0 L1393.2,752.8 L1398.3,750.8 L1398.3,738.6 L1402.3,736.6 L1402.3,728.5 L1406.4,725.5 L1411.4,725.5 L1415.5,728.5 L1419.5,733.6 L1424.2,734.6 L1424.2,762.9 L1427.6,742.7 L1428.6,711.3 L1436.7,709.3 L1441.8,708.3 L1446.8,713.4 L1454.9,714.4 L1461.0,718.4 L1465.0,706.3 L1471.1,704.3 L1475.1,697.2 L1481.2,691.1 L1485.2,692.1 L1489.3,714.4 L1492.3,692.1 L1499.4,693.1 L1511.5,694.1 L1517.6,697.2 L1525.6,697.2 L1531.7,695.2 L1539.8,702.2 L1543.8,708.3 L1548.9,710.3 L1550.9,760.9 L1553.5,823.5 L1555.6,771.0 L1558.0,708.3 L1561.0,707.5 L1564.1,707.3 L1567.1,703.8 L1570.1,701.2 L1573.2,705.9 L1576.2,710.3 L1579.2,706.5 L1582.2,703.2 L1584.6,706.9 L1586.9,711.6 L1589.3,715.4 L1591.7,713.3 L1594.0,709.7 L1596.4,707.3 L1599.5,713.6 L1602.5,719.4 L1605.2,715.9 L1607.8,713.2 L1610.5,709.3 L1612.9,713.8 L1615.2,717.7 L1617.6,722.4 L1620.0,718.6 L1622.3,715.0 L1624.7,712.3 L1627.8,718.9 L1630.8,725.5 L1633.8,722.3 L1636.8,719.4 L1639.2,723.3 L1641.5,728.0 L1643.9,732.6 L1647.0,729.8 L1650.0,727.5 L1654.0,738.6" fill="none" stroke="#ee4040" stroke-width="4.80" stroke-linejoin="round" stroke-linecap="butt"/>
<path d="M104.0,873.1 L106.3,872.6 L108.5,872.4 L110.8,873.1 L113.0,872.7 L115.3,872.6 L117.5,873.3 L119.8,874.4 L122.0,874.2 L124.3,873.7 L126.6,874.1 L128.9,873.0 L131.2,873.5 L133.5,872.9 L135.8,872.6 L138.1,872.4 L140.4,872.5 L142.8,873.9 L145.1,873.6 L147.4,873.5 L149.7,873.4 L152.0,872.1 L154.3,872.2 L156.6,872.5 L158.8,872.8 L161.0,873.1 L163.3,873.4 L165.5,873.5 L167.7,872.0 L169.9,873.1 L172.2,873.3 L174.4,873.0 L176.6,872.4 L178.8,873.0 L181.1,872.3 L183.3,874.1 L185.5,874.0 L187.8,873.4 L190.0,873.0 L192.2,874.3 L194.4,873.7 L196.7,874.3 L198.9,874.3 L201.1,873.7 L203.5,874.0 L205.9,874.1 L208.4,874.8 L210.8,874.8 L213.2,875.2 L216.2,876.5 L219.3,879.2 L222.3,878.3 L225.3,878.2 L229.4,875.2 L232.1,876.5 L234.8,875.6 L237.5,877.2 L239.8,876.4 L242.0,877.7 L244.3,877.1 L246.6,877.8 L248.8,877.8 L251.1,877.6 L253.3,879.1 L255.6,878.2 L259.7,882.2 L262.4,882.6 L265.1,884.1 L267.8,885.3 L270.3,884.7 L272.9,885.6 L275.4,884.9 L277.9,885.3 L280.2,885.5 L282.6,886.8 L284.9,886.4 L287.3,887.4 L289.6,888.6 L292.0,888.3 L294.1,891.3 L296.4,891.1 L298.6,891.3 L300.9,891.8 L303.1,892.7 L305.4,892.8 L307.7,892.6 L309.9,892.9 L312.2,893.4 L314.8,893.8 L317.3,894.9 L319.8,895.1 L322.4,896.4 L324.8,897.1 L327.1,897.9 L329.4,898.4 L331.8,898.7 L334.1,899.5 L336.5,899.4 L338.9,899.3 L341.3,900.2 L343.8,901.5 L346.2,901.8 L348.6,902.0 L350.9,901.9 L353.2,902.5 L355.5,902.1 L357.9,902.4 L360.2,901.8 L362.5,901.6 L364.8,902.0 L367.3,901.0 L369.9,899.8 L372.4,899.2 L374.9,898.4 L377.3,898.5 L379.7,897.2 L382.2,896.4 L384.6,895.9 L387.0,896.0 L389.7,895.1 L392.3,895.3 L395.0,894.5 L397.3,893.9 L399.6,893.3 L402.0,892.6 L404.3,893.2 L406.6,892.0 L409.0,891.3 L411.3,890.6 L413.6,890.7 L415.8,889.8 L418.1,889.6 L420.3,889.9 L422.6,888.9 L424.8,888.5 L427.1,888.7 L429.3,888.0 L431.6,888.6 L433.8,887.2 L436.1,887.4 L438.3,887.3 L440.6,886.5 L442.8,886.9 L445.1,885.9 L447.3,885.3 L449.6,885.2 L451.8,884.4 L454.1,884.5 L456.3,884.0 L458.6,884.4 L460.8,883.6 L463.0,883.7 L465.2,883.1 L467.5,882.3 L469.7,882.3 L471.9,882.0 L474.1,881.7 L476.4,881.4 L478.6,882.0 L480.8,880.8 L483.0,880.5 L485.2,881.2 L487.5,880.5 L489.7,880.8 L491.9,879.8 L494.1,880.2 L496.4,879.6 L498.6,879.5 L500.8,878.9 L503.0,879.1 L505.3,878.8 L507.5,878.2 L509.7,878.3 L511.9,879.0 L514.2,879.0 L516.4,878.9 L518.6,878.2 L520.9,878.5 L523.1,878.6 L525.3,878.3 L527.5,878.5 L529.8,878.1 L532.0,878.2 L534.2,878.1 L536.4,877.6 L538.7,878.3 L540.9,877.7 L543.3,880.6 L545.7,882.4 L548.7,886.0 L551.6,890.7 L555.1,904.8 L557.5,907.1 L559.8,908.3 L561.0,926.0 L563.4,928.6 L565.7,930.0 L569.2,926.0 L572.8,920.1 L575.5,918.7 L578.3,916.4 L581.0,915.4 L583.4,908.3 L585.8,905.9 L588.1,902.5 L590.5,899.3 L592.8,897.5 L595.2,894.2 L597.6,894.2 L599.9,893.2 L602.3,893.1 L604.6,893.4 L607.0,893.0 L609.4,889.5 L611.7,885.9 L614.0,883.2 L616.4,880.0 L618.8,879.6 L621.1,877.9 L623.4,876.8 L625.8,876.5 L628.2,876.8 L630.5,875.5 L632.9,876.3 L635.2,875.1 L637.6,875.7 L640.0,875.5 L642.3,875.3 L644.7,874.7 L647.0,874.9 L649.4,874.2 L651.6,874.0 L653.8,874.6 L656.0,874.3 L658.2,875.1 L660.5,875.1 L662.7,874.8 L664.9,875.0 L667.1,874.5 L669.3,874.7 L671.5,875.4 L673.7,875.4 L675.9,876.0 L678.2,875.8 L680.4,875.3 L682.6,875.7 L684.8,876.0 L687.4,877.0 L690.0,877.3 L692.6,878.4 L695.2,878.8 L697.8,880.5 L700.5,879.2 L703.3,877.4 L706.0,875.3 L708.2,874.7 L710.5,875.2 L712.7,874.9 L714.9,875.4 L717.1,874.7 L719.4,874.5 L721.6,874.8 L723.8,875.3 L726.1,874.2 L728.3,874.1 L730.5,874.6 L732.8,874.9 L735.0,874.4 L737.2,874.2 L739.5,874.6 L741.7,874.5 L743.9,873.5 L746.1,874.4 L748.4,873.5 L750.6,873.6 L752.8,874.2 L755.1,873.6 L757.3,874.0 L759.5,873.1 L761.8,873.9 L764.0,873.0 L766.2,872.9 L768.4,873.2 L770.7,873.0 L772.9,873.1 L775.1,873.2 L777.3,873.6 L779.5,873.4 L781.7,872.5 L783.9,872.9 L786.1,873.2 L788.4,873.1 L790.6,873.4 L792.8,873.1 L795.0,872.6 L797.2,872.8 L799.4,873.5 L801.6,872.9 L803.8,873.4 L806.0,873.7 L808.2,873.3 L810.4,873.3 L812.6,873.2 L814.9,872.9 L817.1,873.6 L819.3,873.1 L821.5,873.6 L823.7,872.9 L825.9,873.5 L828.1,873.1 L830.3,873.5 L832.5,873.4 L834.7,873.3 L836.9,873.0 L839.2,873.9 L841.4,873.5 L843.6,873.9 L845.8,873.4 L848.0,873.4 L850.2,873.6 L852.4,874.5 L854.6,873.8 L856.9,874.8 L859.1,874.2 L861.3,874.6 L863.5,874.4 L865.7,874.8 L867.9,874.3 L870.1,874.7 L872.3,875.5 L874.6,874.6 L876.8,875.3 L879.0,875.0 L881.2,875.1 L883.4,875.4 L885.6,874.8 L887.8,874.9 L890.0,876.0 L892.2,875.9 L894.4,875.9 L896.6,875.9 L898.9,876.1 L901.1,875.2 L903.3,875.7 L905.5,875.6 L907.7,875.7 L909.9,876.2 L912.1,876.0 L914.3,876.2 L916.5,875.2 L918.7,875.9 L920.9,876.0 L923.1,876.1 L925.4,875.9 L927.6,876.2 L929.8,875.6 L932.0,876.4 L934.2,875.7 L936.4,876.0 L938.6,875.9 L940.9,876.4 L943.2,876.1 L945.5,875.7 L947.8,875.6 L950.1,875.7 L952.4,876.1 L954.7,876.5 L957.0,876.4 L959.3,875.8 L961.6,875.8 L963.9,876.3 L966.2,875.9 L968.5,875.5 L970.8,875.4 L973.1,874.8 L975.4,874.8 L977.7,875.0 L980.0,875.0 L982.4,874.8 L984.7,874.3 L987.0,874.8 L989.3,874.2 L991.6,873.5 L993.9,873.7 L996.1,873.1 L998.3,874.1 L1000.5,874.1 L1002.7,873.9 L1004.9,873.4 L1007.1,873.0 L1009.4,872.7 L1011.6,872.8 L1013.8,872.7 L1016.0,873.5 L1018.2,873.3 L1020.4,873.1 L1022.6,872.3 L1024.8,872.3 L1027.0,872.3 L1029.2,873.0 L1031.4,872.0 L1033.6,872.7 L1035.9,872.5 L1038.1,872.2 L1040.3,872.7 L1042.5,871.7 L1044.7,872.0 L1046.9,871.5 L1049.1,871.8 L1051.4,871.5 L1053.6,871.6 L1055.9,872.1 L1058.2,872.0 L1060.4,872.1 L1062.7,873.4 L1064.9,872.8 L1067.2,873.7 L1069.5,873.6 L1071.7,873.8 L1074.0,873.7 L1077.0,874.6 L1080.0,875.1 L1082.7,877.3 L1085.4,878.9 L1088.1,880.1 L1095.2,886.2 L1095.2,898.3 L1099.2,900.3 L1099.2,971.1 L1104.3,977.2 L1104.3,1082.3 L1109.3,1086.3 L1109.3,1106.5 L1113.4,1108.5 L1114.4,1122.7 L1118.4,1116.6 L1118.4,979.2 L1123.5,971.1 L1123.5,922.6 L1127.5,916.5 L1132.6,914.5 L1135.6,908.4 L1140.6,904.4 L1145.7,906.4 L1149.7,910.4 L1148.7,993.3 L1153.8,1011.5 L1154.4,1058.0 L1155.8,1015.6 L1158.8,950.9 L1158.8,914.5 L1162.9,910.4 L1168.9,906.4 L1173.0,900.3 L1176.0,894.3 L1179.0,888.2 L1187.1,884.2 L1194.2,881.1 L1201.3,884.2 L1207.4,886.2 L1209.4,897.3 L1213.4,888.2 L1219.5,890.2 L1221.5,892.2 L1221.5,908.4 L1225.5,910.4 L1225.5,926.6 L1229.6,942.8 L1233.6,938.7 L1233.6,924.6 L1239.7,916.5 L1247.8,916.5 L1247.8,928.6 L1251.8,940.8 L1255.9,922.6 L1257.9,930.7 L1259.9,936.7 L1263.9,930.7 L1268.0,920.5 L1274.1,926.6 L1277.1,930.7 L1280.1,924.6 L1282.1,916.5 L1286.2,916.5 L1288.2,924.6 L1292.3,926.6 L1296.3,930.7 L1300.3,935.7 L1300.3,952.9 L1304.4,956.9 L1304.4,1027.7 L1308.4,1031.7 L1308.4,1084.3 L1312.5,1086.3 L1313.9,1100.5 L1314.5,1076.2 L1318.5,1072.2 L1318.5,1043.9 L1322.6,1041.8 L1322.6,1019.6 L1326.6,1015.6 L1326.6,971.1 L1330.7,969.1 L1330.7,952.9 L1340.8,951.9 L1348.8,955.9 L1349.9,971.1 L1353.9,973.1 L1353.9,985.2 L1358.0,989.3 L1359.0,983.2 L1363.0,982.2 L1363.0,967.0 L1367.0,967.0 L1370.0,972.1 L1376.0,972.1 L1376.0,999.4 L1379.1,1002.4 L1380.1,1013.5 L1383.1,996.4 L1385.2,1023.6 L1389.2,1023.6 L1389.2,970.1 L1393.2,967.0 L1393.2,953.9 L1398.3,951.9 L1398.3,940.8 L1402.3,937.7 L1406.4,930.7 L1411.4,930.7 L1419.5,935.7 L1424.2,937.7 L1424.2,960.0 L1427.6,942.8 L1428.6,919.5 L1440.8,918.5 L1450.9,922.6 L1461.0,925.6 L1465.0,915.5 L1471.1,914.5 L1473.1,909.4 L1480.2,906.4 L1485.2,910.4 L1489.3,923.6 L1493.3,911.4 L1499.4,911.4 L1511.5,916.5 L1519.6,920.5 L1529.7,919.5 L1537.8,926.6 L1541.8,932.7 L1547.9,933.7 L1550.9,963.0 L1553.5,1071.1 L1556.0,973.1 L1559.0,930.7 L1561.6,930.7 L1564.2,930.3 L1566.9,930.2 L1569.5,930.0 L1572.1,929.6 L1575.2,933.2 L1578.2,936.7 L1581.2,935.7 L1584.3,934.7 L1587.0,935.7 L1589.7,937.7 L1592.4,938.7 L1595.4,940.7 L1598.4,942.8 L1601.5,944.4 L1604.5,946.8 L1607.2,947.1 L1609.9,948.5 L1612.6,948.8 L1615.6,950.6 L1618.6,952.9 L1621.1,953.3 L1623.7,954.1 L1626.2,954.8 L1628.7,954.9 L1631.4,956.4 L1634.1,958.2 L1636.8,960.0 L1639.5,961.6 L1642.2,962.9 L1644.9,965.0 L1647.2,968.4 L1649.5,970.6 L1651.7,974.6 L1654.0,977.2" fill="none" stroke="#0000ff" stroke-width="4.80" stroke-linejoin="round" stroke-linecap="butt"/>
</g>
<rect x="103.5" y="23.0" width="1551.5" height="1265.0" fill="none" stroke="#000" stroke-width="5.5"/>
<line x1="103.5" y1="1288.0" x2="103.5" y2="1309.5" stroke="#000" stroke-width="5.8"/>
<line x1="325.0" y1="1288.0" x2="325.0" y2="1309.5" stroke="#000" stroke-width="5.8"/>
<line x1="546.5" y1="1288.0" x2="546.5" y2="1309.5" stroke="#000" stroke-width="5.8"/>
<line x1="768.0" y1="1288.0" x2="768.0" y2="1309.5" stroke="#000" stroke-width="5.8"/>
<line x1="989.5" y1="1288.0" x2="989.5" y2="1309.5" stroke="#000" stroke-width="5.8"/>
<line x1="1211.0" y1="1288.0" x2="1211.0" y2="1309.5" stroke="#000" stroke-width="5.8"/>
<line x1="1432.5" y1="1288.0" x2="1432.5" y2="1309.5" stroke="#000" stroke-width="5.8"/>
<line x1="1654.0" y1="1288.0" x2="1654.0" y2="1309.5" stroke="#000" stroke-width="5.8"/>
<line x1="214.2" y1="1288.0" x2="214.2" y2="1298.5" stroke="#000" stroke-width="5.8"/>
<line x1="435.8" y1="1288.0" x2="435.8" y2="1298.5" stroke="#000" stroke-width="5.8"/>
<line x1="657.2" y1="1288.0" x2="657.2" y2="1298.5" stroke="#000" stroke-width="5.8"/>
<line x1="878.8" y1="1288.0" x2="878.8" y2="1298.5" stroke="#000" stroke-width="5.8"/>
<line x1="1100.2" y1="1288.0" x2="1100.2" y2="1298.5" stroke="#000" stroke-width="5.8"/>
<line x1="1321.8" y1="1288.0" x2="1321.8" y2="1298.5" stroke="#000" stroke-width="5.8"/>
<line x1="1543.2" y1="1288.0" x2="1543.2" y2="1298.5" stroke="#000" stroke-width="5.8"/>
<line x1="386.8" y1="82.5" x2="503.9" y2="82.5" stroke="#000000" stroke-width="5.2" stroke-linecap="round"/>
<line x1="386.8" y1="154.6" x2="503.9" y2="154.6" stroke="#ee4040" stroke-width="5.2" stroke-linecap="round"/>
<line x1="903.5" y1="82.1" x2="1020.6" y2="82.1" stroke="#ff00ff" stroke-width="5.2" stroke-linecap="round"/>
<line x1="903.5" y1="153.9" x2="1020.6" y2="153.9" stroke="#0000ff" stroke-width="5.2" stroke-linecap="round"/>
<line x1="352.8" y1="1724.3" x2="352.8" y2="2368.0" stroke="#000" stroke-width="4.4" stroke-dasharray="16.5 13.5"/>
<line x1="558.9" y1="1710.0" x2="558.9" y2="2557.3" stroke="#000" stroke-width="4.2" stroke-dasharray="16.5 13.5"/>
<line x1="572.9" y1="1714.0" x2="572.9" y2="2445.7" stroke="#000" stroke-width="4.0" stroke-dasharray="16.5 13.5"/>
<line x1="603.7" y1="1713.0" x2="603.7" y2="2327.6" stroke="#000" stroke-width="4.2" stroke-dasharray="16.5 13.5"/>
<line x1="1105.0" y1="1720.1" x2="1105.0" y2="2425.0" stroke="#000" stroke-width="3.9" stroke-dasharray="16.5 13.5"/>
<line x1="1143.8" y1="1710.4" x2="1143.8" y2="2560.4" stroke="#000" stroke-width="3.8" stroke-dasharray="16.5 13.5"/>
<line x1="1197.0" y1="1723.3" x2="1197.0" y2="2427.8" stroke="#000" stroke-width="4.0" stroke-dasharray="16.5 13.5"/>
<line x1="1302.5" y1="1710.4" x2="1302.5" y2="2557.6" stroke="#000" stroke-width="3.6" stroke-dasharray="16.5 13.5"/>
<g id="curves-b">
<path d="M103.0,1749.5 L105.5,1750.3 L107.9,1751.2 L110.4,1751.8 L112.8,1752.7 L115.3,1752.7 L117.7,1753.7 L120.2,1753.0 L122.4,1751.9 L124.7,1753.3 L126.9,1754.8 L129.2,1754.1 L131.4,1755.0 L133.7,1753.0 L135.9,1754.2 L138.2,1753.7 L140.4,1754.6 L142.7,1754.9 L145.1,1755.2 L147.4,1753.8 L149.7,1754.5 L152.0,1754.9 L154.4,1756.9 L156.7,1756.6 L159.0,1755.1 L161.3,1757.1 L163.7,1755.4 L166.0,1756.6 L167.7,1751.5 L169.0,1757.0 L171.2,1757.6 L173.4,1756.5 L175.6,1756.4 L177.8,1759.1 L180.0,1757.5 L182.2,1757.8 L184.4,1760.2 L186.6,1760.1 L188.8,1758.8 L191.0,1759.6 L193.3,1761.3 L195.6,1760.5 L197.8,1761.3 L200.1,1760.3 L202.4,1762.8 L204.6,1762.5 L206.9,1763.6 L209.2,1762.7 L211.5,1761.8 L213.9,1758.1 L216.2,1756.6 L218.8,1758.2 L221.3,1760.6 L223.7,1760.1 L226.1,1760.4 L228.6,1760.6 L231.0,1761.7 L233.4,1762.7 L236.1,1765.7 L238.8,1766.7 L241.5,1770.8 L243.9,1771.9 L246.3,1771.5 L248.8,1772.1 L251.2,1774.1 L253.6,1773.8 L255.6,1780.9 L258.3,1778.1 L261.0,1775.0 L263.7,1772.8 L266.4,1775.4 L269.1,1778.8 L271.8,1780.9 L274.9,1778.1 L277.9,1777.8 L280.3,1781.0 L282.7,1780.1 L285.2,1784.0 L287.6,1786.0 L290.0,1786.9 L292.0,1792.0 L294.2,1791.8 L296.5,1793.3 L298.7,1793.1 L301.0,1793.9 L303.2,1793.5 L305.5,1794.0 L307.7,1794.7 L310.0,1796.2 L312.2,1796.0 L314.5,1796.1 L316.7,1797.5 L319.0,1798.3 L321.2,1798.9 L323.5,1798.6 L325.7,1799.2 L328.0,1800.0 L330.2,1800.9 L332.5,1801.1 L334.9,1801.6 L337.2,1803.4 L339.6,1804.5 L341.9,1805.6 L344.2,1805.5 L346.6,1807.1 L349.0,1807.7 L351.4,1806.5 L353.9,1806.9 L356.3,1807.3 L358.7,1807.1 L361.1,1807.1 L363.6,1805.7 L366.0,1805.9 L368.5,1804.8 L370.9,1804.1 L373.4,1804.1 L375.9,1804.3 L378.5,1804.4 L381.0,1805.1 L383.7,1802.8 L386.4,1801.3 L389.1,1800.1 L391.3,1799.7 L393.5,1799.6 L395.7,1797.8 L397.9,1797.0 L400.1,1797.0 L402.3,1797.2 L404.6,1796.2 L406.8,1795.5 L409.1,1794.9 L411.3,1794.9 L413.6,1794.8 L415.8,1793.8 L418.1,1793.3 L420.3,1793.0 L422.5,1792.0 L424.8,1792.9 L427.0,1791.3 L429.3,1791.7 L431.5,1791.8 L433.8,1790.5 L436.0,1791.0 L438.3,1791.0 L440.5,1790.0 L442.8,1789.9 L445.0,1789.9 L447.3,1788.7 L449.5,1789.0 L451.8,1788.3 L454.0,1789.1 L456.3,1788.1 L458.5,1788.1 L460.8,1787.9 L463.1,1787.9 L465.5,1787.1 L467.9,1786.6 L470.2,1785.2 L472.5,1784.6 L474.9,1783.9 L477.2,1783.9 L479.5,1783.3 L481.8,1782.8 L484.2,1782.6 L486.5,1782.0 L488.8,1782.0 L491.1,1781.9 L493.3,1782.6 L495.6,1782.5 L497.8,1782.1 L500.1,1781.9 L502.3,1781.7 L504.6,1781.3 L506.8,1781.6 L509.1,1782.3 L511.3,1781.9 L513.8,1781.6 L516.4,1780.2 L518.9,1780.0 L521.4,1778.8 L523.8,1779.5 L526.1,1779.8 L528.5,1780.1 L530.8,1780.6 L533.1,1780.4 L535.5,1780.9 L539.6,1784.9 L541.6,1795.0 L545.7,1797.0 L546.7,1809.2 L549.7,1809.2 L549.7,1833.4 L552.2,1834.7 L554.7,1835.4 L554.7,1870.4 L558.8,1873.5 L560.8,1878.5 L563.8,1868.4 L564.9,1862.3 L567.2,1860.0 L569.6,1858.3 L571.9,1856.3 L574.5,1855.7 L577.0,1854.3 L578.0,1848.2 L582.0,1842.1 L582.0,1830.0 L585.1,1823.3 L589.1,1812.2 L591.3,1812.3 L593.5,1811.5 L595.8,1812.2 L598.0,1811.6 L600.2,1811.2 L602.6,1809.9 L604.9,1807.8 L607.3,1807.1 L608.3,1797.0 L612.4,1795.0 L612.4,1784.9 L614.9,1783.0 L617.4,1780.9 L619.6,1779.5 L621.8,1779.1 L624.1,1777.8 L626.3,1777.3 L628.5,1775.8 L630.7,1775.7 L632.9,1775.7 L635.1,1774.8 L637.3,1774.9 L639.5,1774.8 L641.8,1774.6 L644.0,1773.7 L646.2,1774.1 L648.4,1773.9 L650.6,1773.3 L652.8,1772.8 L655.1,1773.4 L657.3,1773.4 L659.6,1772.7 L661.9,1772.7 L664.1,1772.2 L666.4,1773.1 L668.7,1773.2 L670.9,1772.5 L673.2,1772.8 L675.5,1772.8 L677.7,1772.8 L680.0,1772.4 L682.3,1772.5 L684.5,1773.9 L686.8,1774.2 L689.0,1774.9 L691.3,1775.2 L693.7,1774.3 L696.2,1773.7 L698.6,1773.1 L701.0,1772.1 L703.4,1771.4 L705.9,1769.7 L708.3,1769.5 L710.6,1768.8 L712.8,1769.0 L715.1,1769.1 L717.4,1768.3 L719.6,1768.8 L721.9,1768.5 L724.1,1767.5 L726.4,1767.9 L728.7,1767.4 L730.9,1767.0 L733.2,1766.9 L735.5,1766.9 L737.7,1766.6 L740.0,1766.4 L742.3,1766.0 L744.5,1766.4 L746.8,1766.1 L749.1,1766.2 L751.3,1766.0 L753.6,1765.3 L755.8,1766.0 L758.1,1764.6 L760.4,1765.0 L762.6,1764.6 L764.9,1764.7 L767.2,1764.5 L769.4,1764.0 L771.7,1764.9 L774.0,1764.2 L776.2,1763.6 L778.5,1764.3 L780.7,1763.5 L783.0,1764.1 L785.3,1763.7 L787.5,1763.9 L789.8,1764.4 L792.1,1764.1 L794.3,1763.4 L796.6,1763.9 L798.9,1763.6 L801.1,1763.1 L803.4,1762.7 L805.7,1763.3 L807.9,1763.1 L810.2,1763.6 L812.4,1763.5 L814.7,1762.9 L817.0,1762.5 L819.2,1763.1 L821.5,1762.5 L823.8,1761.6 L826.0,1761.6 L828.3,1762.1 L830.6,1762.0 L832.8,1761.1 L835.1,1761.6 L837.3,1761.8 L839.6,1761.0 L841.9,1760.9 L844.1,1760.4 L846.4,1760.3 L848.7,1761.1 L850.9,1760.1 L853.2,1760.7 L855.5,1760.5 L857.7,1759.9 L860.0,1759.2 L862.3,1760.1 L864.5,1759.2 L866.8,1758.9 L869.0,1758.6 L871.3,1759.4 L873.6,1758.5 L875.8,1758.1 L878.1,1758.2 L880.4,1758.1 L882.6,1757.4 L884.9,1758.0 L887.2,1757.7 L889.4,1757.4 L891.7,1757.9 L893.9,1757.9 L896.2,1756.6 L898.5,1757.2 L900.7,1756.8 L903.0,1757.6 L905.3,1757.3 L907.5,1756.4 L909.8,1756.3 L912.1,1756.0 L914.3,1757.1 L916.6,1756.0 L918.9,1756.3 L921.1,1756.0 L923.4,1756.2 L925.6,1756.0 L927.9,1756.1 L930.2,1755.1 L932.4,1755.9 L934.7,1755.4 L937.0,1755.0 L939.2,1755.3 L941.5,1754.9 L943.8,1754.8 L946.0,1755.0 L948.3,1754.9 L950.5,1754.6 L952.8,1755.1 L955.1,1754.8 L957.3,1754.0 L959.6,1754.2 L961.9,1754.4 L964.1,1754.9 L966.4,1754.8 L968.7,1754.3 L970.9,1753.4 L973.2,1754.4 L975.5,1753.9 L977.7,1754.0 L980.0,1754.1 L982.2,1753.9 L984.5,1753.6 L986.8,1754.1 L989.0,1753.3 L991.3,1753.4 L993.7,1752.6 L996.0,1752.7 L998.4,1751.1 L1000.8,1750.6 L1003.1,1750.8 L1005.5,1749.7 L1007.9,1748.9 L1010.2,1749.7 L1012.6,1749.3 L1014.9,1748.7 L1017.3,1748.2 L1019.6,1748.7 L1022.0,1748.6 L1024.4,1747.3 L1026.7,1747.6 L1029.1,1747.4 L1031.4,1747.1 L1033.8,1746.9 L1036.1,1746.9 L1038.3,1747.0 L1040.6,1747.9 L1042.8,1748.5 L1045.1,1747.7 L1047.4,1748.2 L1049.6,1749.3 L1051.9,1749.5 L1054.1,1749.6 L1056.4,1749.7 L1058.7,1749.3 L1061.0,1750.6 L1063.2,1751.2 L1065.5,1751.5 L1067.8,1751.1 L1070.6,1753.3 L1073.5,1754.3 L1076.3,1756.8 L1080.0,1760.4 L1084.0,1762.5 L1087.1,1767.5 L1087.1,1794.8 L1091.1,1796.8 L1091.1,1901.9 L1096.2,1942.4 L1096.2,2060.0 L1099.0,2140.0 L1101.0,2207.0 L1104.0,2206.0 L1107.0,2140.0 L1108.3,2060.0 L1108.3,2020.0 L1109.3,1938.3 L1112.3,1932.3 L1112.3,1829.2 L1116.4,1827.1 L1116.4,1810.0 L1120.4,1806.9 L1124.5,1796.8 L1129.5,1794.8 L1131.5,1786.7 L1134.6,1781.7 L1137.6,1791.8 L1139.6,1792.8 L1139.6,1861.5 L1142.7,1871.6 L1143.7,1910.0 L1144.7,1821.1 L1148.7,1819.0 L1147.7,1788.7 L1156.8,1784.7 L1160.9,1778.6 L1162.9,1774.6 L1164.9,1766.5 L1168.9,1762.5 L1173.0,1759.4 L1173.0,1752.3 L1183.1,1751.3 L1187.1,1755.4 L1190.2,1763.5 L1195.2,1768.5 L1196.2,1784.7 L1199.3,1778.6 L1200.3,1760.4 L1206.3,1759.4 L1209.4,1764.5 L1210.4,1790.8 L1214.4,1792.8 L1214.4,1819.0 L1218.5,1821.1 L1219.5,1843.3 L1223.5,1839.3 L1222.5,1804.9 L1225.5,1792.8 L1231.6,1792.8 L1236.7,1796.8 L1236.7,1820.1 L1239.7,1821.1 L1240.7,1845.3 L1242.7,1825.1 L1244.7,1806.9 L1245.8,1829.2 L1248.8,1833.2 L1252.8,1825.1 L1252.8,1805.9 L1257.9,1805.9 L1258.9,1815.0 L1261.9,1818.0 L1266.0,1813.0 L1268.0,1802.9 L1271.0,1795.8 L1276.1,1794.8 L1276.1,1813.0 L1280.1,1817.0 L1282.1,1821.1 L1285.2,1827.1 L1288.2,1833.2 L1289.2,1877.7 L1293.3,1881.7 L1293.3,1994.9 L1296.3,2026.3 L1298.3,2097.0 L1300.3,2141.5 L1302.4,2147.6 L1306.4,2095.0 L1308.4,2046.5 L1310.4,2020.0 L1310.4,1988.8 L1314.5,1984.8 L1314.5,1899.9 L1318.5,1895.9 L1318.5,1867.6 L1326.6,1865.5 L1328.6,1871.6 L1337.7,1869.6 L1337.7,1897.9 L1341.8,1899.9 L1341.8,1930.2 L1344.8,1934.3 L1348.8,1927.2 L1348.8,1884.7 L1353.9,1881.7 L1354.9,1891.8 L1363.0,1891.8 L1364.0,1936.3 L1367.0,1940.3 L1368.0,1962.6 L1371.1,1980.8 L1373.1,1982.8 L1375.9,1981.9 L1375.9,1872.4 L1379.8,1868.5 L1379.8,1841.2 L1384.7,1839.2 L1384.7,1819.7 L1388.6,1817.7 L1388.6,1806.0 L1392.5,1804.0 L1394.4,1799.1 L1399.3,1799.1 L1402.2,1806.0 L1404.2,1810.9 L1407.1,1815.0 L1410.0,1817.0 L1411.0,1853.9 L1412.0,1825.0 L1414.0,1818.0 L1415.9,1817.7 L1415.9,1780.6 L1421.8,1778.6 L1428.6,1776.7 L1432.5,1782.5 L1440.4,1783.5 L1447.2,1791.3 L1450.1,1788.4 L1451.1,1770.8 L1456.0,1768.9 L1458.9,1761.0 L1465.8,1751.3 L1470.6,1751.3 L1475.5,1783.5 L1478.5,1753.2 L1485.3,1754.2 L1495.1,1753.2 L1502.9,1759.1 L1510.7,1760.1 L1515.6,1757.1 L1522.4,1763.0 L1528.3,1770.8 L1532.2,1780.6 L1536.1,1819.7 L1538.1,1929.1 L1541.0,1837.3 L1543.0,1774.7 L1547.8,1771.8 L1550.1,1769.9 L1552.4,1766.9 L1554.7,1764.9 L1557.6,1771.5 L1560.5,1777.7 L1563.5,1773.3 L1566.4,1767.9 L1569.0,1774.0 L1571.6,1779.2 L1574.2,1785.5 L1576.8,1781.0 L1579.4,1777.5 L1582.0,1772.8 L1587.9,1791.3 L1590.5,1785.7 L1593.1,1781.0 L1595.7,1775.7 L1598.0,1782.1 L1600.3,1788.3 L1602.6,1795.2 L1604.9,1790.8 L1607.1,1785.6 L1609.4,1781.6 L1611.7,1787.3 L1613.9,1793.8 L1616.2,1800.1 L1618.5,1796.7 L1620.8,1793.7 L1623.1,1791.3 L1628.9,1810.9 L1631.8,1807.5 L1634.8,1804.0 L1637.2,1811.6 L1639.7,1818.7" fill="none" stroke="#525252" stroke-width="6.00" stroke-linejoin="round" stroke-linecap="butt"/>
<path d="M103.0,1845.2 L105.5,1846.0 L107.9,1846.4 L110.4,1846.0 L112.8,1845.9 L115.3,1845.7 L117.7,1847.2 L120.2,1847.2 L122.4,1847.7 L124.7,1848.7 L126.9,1848.5 L129.2,1849.7 L131.4,1849.3 L133.7,1850.8 L135.9,1851.2 L138.2,1851.1 L140.4,1851.8 L142.6,1852.1 L144.8,1852.6 L147.0,1851.9 L149.2,1852.8 L151.4,1853.5 L153.7,1852.7 L155.9,1853.9 L158.1,1854.0 L160.3,1854.5 L162.5,1853.8 L164.7,1854.3 L167.1,1854.0 L169.5,1855.7 L171.9,1856.2 L174.3,1856.0 L176.7,1855.8 L179.0,1856.5 L181.4,1857.7 L183.8,1857.6 L186.2,1859.2 L188.6,1859.0 L191.0,1859.3 L193.2,1859.1 L195.5,1860.2 L197.7,1860.0 L200.0,1861.4 L202.2,1861.7 L204.5,1861.3 L206.7,1861.9 L209.0,1862.3 L211.2,1862.3 L214.2,1866.9 L217.2,1870.4 L219.9,1870.9 L222.6,1868.9 L225.3,1869.4 L227.6,1869.6 L229.9,1870.4 L232.2,1870.3 L234.6,1871.3 L236.9,1870.8 L239.2,1872.7 L241.5,1872.4 L244.2,1872.8 L246.9,1872.4 L249.6,1873.5 L252.3,1876.8 L255.0,1879.2 L257.7,1882.6 L261.7,1890.6 L264.4,1892.1 L267.1,1894.6 L269.8,1896.7 L272.9,1900.1 L275.9,1904.8 L278.4,1906.8 L280.9,1910.5 L283.5,1912.7 L286.0,1914.9 L289.0,1919.1 L292.0,1925.0 L294.5,1927.5 L297.1,1928.2 L299.6,1930.8 L302.1,1933.1 L304.5,1936.0 L307.0,1938.1 L309.4,1940.1 L311.9,1942.6 L314.3,1945.2 L316.8,1947.1 L319.4,1948.8 L321.9,1951.9 L324.4,1953.3 L326.9,1954.8 L329.4,1957.3 L332.0,1959.7 L334.5,1961.4 L337.0,1962.3 L339.6,1964.0 L342.1,1964.1 L344.6,1965.4 L347.1,1966.2 L349.6,1966.4 L352.2,1966.4 L354.7,1966.4 L357.4,1966.5 L360.1,1965.7 L362.8,1965.4 L366.8,1957.4 L369.5,1955.8 L372.2,1953.7 L374.9,1951.3 L377.3,1949.3 L379.7,1947.2 L382.2,1945.5 L384.6,1943.1 L387.0,1941.2 L390.0,1940.2 L392.7,1937.7 L395.4,1936.4 L398.1,1934.1 L400.5,1933.0 L402.9,1932.5 L405.4,1932.0 L407.8,1930.5 L410.2,1930.1 L412.7,1929.0 L415.2,1928.6 L417.8,1928.6 L420.3,1928.0 L422.8,1928.4 L425.4,1928.8 L427.9,1929.5 L430.4,1930.1 L432.6,1930.6 L434.9,1929.8 L437.1,1930.0 L439.4,1930.6 L441.6,1930.2 L443.9,1929.8 L446.1,1930.1 L448.4,1930.1 L450.6,1930.1 L453.2,1928.9 L455.7,1928.4 L458.2,1927.5 L460.8,1927.0 L463.1,1926.4 L465.5,1924.8 L467.9,1924.2 L470.2,1923.6 L472.5,1922.5 L474.9,1921.0 L477.2,1920.3 L479.5,1920.0 L481.8,1919.0 L484.2,1918.5 L486.5,1918.1 L488.8,1917.8 L491.1,1916.9 L493.5,1917.0 L495.9,1915.8 L498.4,1915.1 L500.8,1915.2 L503.2,1914.4 L505.6,1913.9 L508.0,1914.4 L510.5,1913.2 L512.9,1913.6 L515.3,1912.9 L518.3,1910.2 L521.4,1907.8 L523.8,1908.3 L526.2,1908.2 L528.7,1907.3 L531.1,1907.4 L533.5,1907.8 L536.5,1910.4 L539.6,1911.9 L541.6,1923.0 L544.2,1925.1 L546.7,1927.0 L547.7,1941.2 L550.7,1943.2 L550.7,1967.5 L554.7,1969.5 L554.7,2007.9 L558.8,2011.9 L559.8,2018.0 L563.8,2017.0 L565.9,2001.8 L567.9,1989.7 L570.4,1986.6 L572.9,1983.6 L575.0,1971.5 L578.0,1969.5 L580.0,1955.3 L584.1,1951.3 L586.6,1944.5 L589.1,1937.1 L592.1,1938.1 L595.2,1940.0 L598.2,1941.2 L600.8,1939.1 L603.3,1937.1 L606.3,1927.0 L607.3,1914.9 L611.3,1910.9 L612.4,1904.8 L616.4,1900.8 L618.6,1899.5 L620.8,1897.9 L623.1,1897.0 L625.3,1895.5 L627.5,1894.7 L630.0,1894.4 L632.6,1893.8 L635.1,1892.8 L637.6,1892.9 L640.2,1891.7 L642.7,1891.7 L644.9,1890.9 L647.2,1891.2 L649.4,1890.6 L651.7,1890.8 L653.9,1890.1 L656.2,1889.9 L658.4,1888.8 L660.7,1889.3 L662.9,1888.6 L665.3,1888.1 L667.8,1888.7 L670.2,1889.0 L672.7,1889.0 L675.1,1888.9 L677.6,1888.4 L680.0,1888.4 L682.3,1888.4 L684.5,1888.3 L686.8,1887.3 L689.1,1888.0 L691.3,1887.8 L693.6,1887.0 L695.8,1887.1 L698.1,1886.5 L700.4,1886.1 L702.6,1886.4 L704.9,1885.4 L707.2,1886.0 L709.4,1886.0 L711.7,1885.0 L714.0,1885.5 L716.2,1884.3 L718.5,1885.0 L720.8,1884.0 L723.0,1884.6 L725.3,1883.8 L727.5,1884.1 L729.8,1882.8 L732.1,1882.7 L734.3,1883.3 L736.6,1882.7 L738.8,1882.7 L741.1,1882.4 L743.3,1881.6 L745.6,1881.5 L747.8,1881.6 L750.1,1881.0 L752.3,1882.0 L754.6,1881.5 L756.8,1881.5 L759.1,1881.0 L761.3,1880.4 L763.6,1879.9 L765.8,1880.5 L768.1,1879.6 L770.3,1879.9 L772.6,1879.6 L774.8,1879.4 L777.0,1878.7 L779.3,1878.6 L781.5,1878.9 L783.8,1878.1 L786.0,1878.5 L788.3,1877.9 L790.5,1877.8 L792.8,1877.5 L795.0,1877.8 L797.3,1877.4 L799.5,1877.0 L801.8,1876.8 L804.0,1877.0 L806.3,1877.3 L808.5,1876.5 L810.8,1876.0 L813.0,1876.2 L815.2,1875.7 L817.5,1875.4 L819.7,1875.5 L822.0,1875.5 L824.2,1875.0 L826.5,1874.3 L828.7,1874.2 L831.0,1874.0 L833.2,1873.8 L835.4,1873.5 L837.7,1873.9 L839.9,1873.1 L842.2,1873.0 L844.4,1872.8 L846.7,1872.4 L848.9,1872.4 L851.2,1871.6 L853.4,1871.7 L855.7,1871.8 L857.9,1870.6 L860.1,1870.8 L862.4,1870.3 L864.6,1869.6 L866.9,1869.4 L869.1,1870.0 L871.4,1868.9 L873.6,1869.4 L875.9,1868.4 L878.1,1868.6 L880.3,1868.2 L882.5,1867.5 L884.7,1867.9 L887.0,1867.9 L889.2,1866.9 L891.4,1867.1 L893.6,1867.2 L895.8,1866.2 L898.0,1866.2 L900.2,1866.2 L902.4,1866.1 L904.6,1865.0 L906.9,1865.3 L909.1,1864.4 L911.3,1864.2 L913.5,1864.9 L915.7,1863.5 L917.9,1864.3 L920.1,1863.9 L922.4,1863.5 L924.6,1863.3 L926.8,1862.9 L929.0,1862.2 L931.2,1862.2 L933.4,1861.6 L935.6,1862.1 L937.8,1861.8 L940.0,1861.5 L942.3,1860.6 L944.5,1860.7 L946.7,1860.1 L948.9,1860.1 L951.1,1860.1 L953.4,1859.6 L955.6,1859.6 L957.8,1858.9 L960.1,1858.5 L962.3,1858.2 L964.5,1857.0 L966.8,1857.2 L969.0,1856.2 L971.2,1856.2 L973.4,1855.5 L975.7,1856.2 L977.9,1854.7 L980.1,1855.4 L982.4,1855.0 L984.6,1854.0 L986.8,1854.1 L989.1,1852.8 L991.3,1853.0 L993.7,1852.3 L996.0,1851.9 L998.4,1851.8 L1000.8,1851.5 L1003.1,1852.2 L1005.5,1851.6 L1007.9,1850.4 L1010.2,1850.3 L1012.6,1849.2 L1015.0,1848.4 L1017.3,1848.0 L1019.7,1847.4 L1022.0,1846.7 L1024.2,1847.4 L1026.5,1846.4 L1028.7,1846.4 L1031.0,1846.0 L1033.3,1845.8 L1035.5,1845.3 L1037.8,1844.8 L1040.0,1844.4 L1042.3,1844.5 L1044.6,1845.2 L1046.9,1844.7 L1049.3,1845.2 L1051.6,1845.9 L1053.9,1845.9 L1056.2,1846.6 L1058.5,1846.7 L1060.8,1846.6 L1063.2,1846.4 L1065.5,1847.2 L1067.8,1847.4 L1070.6,1850.2 L1073.5,1853.5 L1076.3,1855.9 L1080.0,1857.5 L1084.0,1868.6 L1086.1,1869.6 L1086.1,1899.9 L1091.1,1903.9 L1091.1,2024.4 L1093.9,2052.2 L1097.8,2087.8 L1097.8,2261.0 L1102.2,2277.8 L1101.0,2290.0 L1103.9,2339.4 L1107.0,2333.0 L1110.6,2298.9 L1110.0,2095.6 L1106.1,2056.7 L1110.3,2020.0 L1111.3,1938.3 L1116.4,1934.3 L1117.4,1914.1 L1121.4,1912.0 L1121.4,1902.9 L1126.5,1901.9 L1126.5,1887.8 L1132.6,1885.8 L1136.1,1886.8 L1136.1,2041.7 L1137.2,2048.9 L1138.9,2062.2 L1140.6,2068.9 L1141.7,2088.9 L1142.8,2092.8 L1145.8,2090.0 L1145.8,1968.6 L1148.7,1964.6 L1148.7,1889.8 L1152.8,1887.8 L1153.8,1881.7 L1156.8,1875.6 L1160.9,1871.6 L1166.9,1869.6 L1168.9,1857.5 L1175.0,1851.4 L1183.1,1848.4 L1187.1,1851.4 L1190.2,1861.5 L1195.2,1863.5 L1196.2,1881.7 L1201.3,1881.7 L1201.3,1855.4 L1206.3,1855.4 L1209.4,1859.5 L1210.4,1891.8 L1214.4,1893.8 L1214.4,1925.2 L1218.5,1928.2 L1218.5,1949.4 L1223.5,1942.4 L1221.5,1908.0 L1225.5,1895.9 L1232.6,1895.9 L1236.7,1901.9 L1236.7,1942.4 L1239.7,1944.4 L1240.7,1982.8 L1243.7,1966.6 L1245.8,1948.4 L1247.8,1964.6 L1248.5,2000.0 L1250.5,2020.2 L1253.8,2018.0 L1252.8,1926.2 L1257.9,1926.2 L1257.9,1916.1 L1261.9,1910.0 L1266.0,1908.0 L1266.0,1895.9 L1271.0,1891.8 L1275.1,1891.8 L1276.1,1920.1 L1280.1,1922.1 L1281.1,1936.3 L1284.2,1940.3 L1286.2,1942.4 L1288.2,1994.9 L1292.3,1999.0 L1292.3,2141.5 L1298.3,2194.1 L1298.3,2236.5 L1301.3,2262.8 L1306.4,2222.4 L1308.4,2171.8 L1310.4,2151.6 L1310.4,2113.2 L1314.5,2020.2 L1314.5,1990.9 L1318.5,1984.8 L1326.6,1982.8 L1332.7,1984.8 L1336.7,1988.8 L1336.7,2018.2 L1341.8,2022.2 L1342.8,2054.6 L1346.8,2052.6 L1347.8,2008.1 L1353.9,2004.0 L1354.9,2014.1 L1363.0,2014.1 L1364.0,2066.7 L1367.0,2088.9 L1370.0,2085.8 L1372.0,2052.6 L1376.1,2050.5 L1376.1,1988.8 L1380.7,1983.8 L1380.7,1954.5 L1384.7,1952.6 L1384.7,1925.2 L1388.6,1923.2 L1388.6,1911.5 L1392.5,1905.7 L1399.3,1905.7 L1403.2,1913.5 L1406.2,1920.0 L1410.0,1923.0 L1411.0,1967.2 L1412.0,1930.0 L1415.0,1928.0 L1415.9,1878.3 L1422.8,1876.3 L1428.6,1874.4 L1432.5,1880.3 L1448.2,1892.0 L1451.1,1870.5 L1456.0,1868.5 L1457.9,1854.8 L1467.7,1844.1 L1471.6,1849.0 L1475.5,1882.2 L1479.4,1847.0 L1487.3,1850.0 L1497.0,1852.9 L1502.9,1860.7 L1510.7,1861.7 L1516.6,1855.8 L1524.4,1861.7 L1528.3,1876.3 L1533.2,1878.3 L1535.1,1915.4 L1537.0,2000.0 L1538.5,2035.0 L1541.0,2000.0 L1543.0,1946.7 L1544.9,1876.3 L1550.8,1871.5 L1556.6,1869.5 L1565.4,1872.4 L1571.3,1879.3 L1583.0,1888.1 L1594.7,1892.9 L1604.5,1898.8 L1612.3,1901.7 L1622.1,1912.5 L1631.9,1921.3 L1639.7,1936.9" fill="none" stroke="#ff8000" stroke-width="6.00" stroke-linejoin="round" stroke-linecap="butt"/>
<path d="M103.0,2001.4 L105.2,2001.1 L107.4,2000.9 L109.6,2001.8 L111.8,2000.8 L114.0,2001.7 L116.2,2001.4 L118.4,2000.9 L120.6,2001.8 L122.8,2001.0 L125.0,2001.8 L127.2,2001.1 L129.4,2001.2 L131.6,2001.9 L133.8,2002.6 L136.0,2001.4 L138.2,2001.7 L140.4,2002.2 L142.6,2002.3 L144.9,2002.7 L147.1,2001.9 L149.4,2001.4 L151.6,2002.3 L153.9,2000.5 L156.1,2001.8 L158.4,2000.6 L160.6,2000.8 L162.9,2000.2 L165.2,2000.3 L167.4,2000.7 L169.7,2001.7 L172.0,2000.6 L174.2,2001.4 L176.5,2001.6 L178.8,2001.2 L181.1,2001.6 L183.3,2000.8 L185.6,2000.8 L187.9,2001.2 L190.2,2002.1 L192.4,2001.7 L194.7,2001.6 L197.0,2002.0 L199.3,2002.7 L201.6,2002.9 L203.9,2003.1 L206.3,2004.5 L208.6,2004.9 L210.9,2004.5 L213.2,2005.5 L215.6,2006.1 L218.0,2006.5 L220.5,2007.7 L222.9,2007.9 L225.3,2008.0 L229.4,2015.2 L231.8,2014.5 L234.2,2015.5 L236.7,2013.6 L239.1,2013.9 L241.5,2013.7 L244.6,2012.8 L247.6,2011.0 L250.3,2011.8 L252.9,2013.8 L255.6,2015.2 L258.6,2017.9 L261.7,2022.2 L263.7,2030.0 L266.2,2030.6 L268.8,2031.0 L271.3,2030.9 L273.8,2031.0 L277.9,2040.4 L280.4,2041.6 L282.9,2041.1 L285.5,2042.3 L288.0,2042.5 L291.1,2045.7 L294.1,2048.5 L296.5,2049.9 L298.8,2051.1 L301.1,2053.0 L303.5,2054.4 L305.9,2055.2 L308.2,2056.6 L310.6,2058.5 L312.9,2059.4 L315.3,2061.9 L317.7,2063.5 L320.0,2065.6 L322.4,2066.7 L324.7,2068.2 L327.0,2068.8 L329.3,2070.0 L331.6,2071.5 L333.9,2071.9 L336.2,2073.6 L338.5,2074.8 L342.6,2076.8 L344.9,2076.4 L347.2,2076.3 L349.4,2076.3 L351.7,2077.1 L354.0,2076.4 L356.2,2076.5 L358.5,2076.7 L360.8,2076.8 L364.8,2072.8 L367.0,2073.0 L369.3,2071.9 L371.5,2072.1 L373.8,2072.0 L376.0,2072.1 L378.3,2071.8 L380.5,2071.7 L382.8,2070.8 L385.0,2070.8 L389.1,2064.7 L392.1,2061.2 L395.0,2058.0 L397.6,2056.2 L400.1,2054.7 L402.6,2054.4 L405.1,2053.7 L407.7,2052.0 L410.2,2051.7 L412.6,2050.3 L415.0,2049.3 L417.5,2048.3 L419.9,2047.6 L422.3,2046.6 L424.6,2046.3 L426.9,2045.6 L429.1,2044.9 L431.4,2045.0 L433.7,2044.6 L435.9,2044.4 L438.2,2044.5 L440.5,2043.6 L442.8,2043.2 L445.1,2042.4 L447.4,2042.0 L449.8,2041.5 L452.1,2040.1 L454.4,2040.6 L456.7,2039.5 L459.1,2038.7 L461.4,2037.6 L463.8,2036.4 L466.2,2034.7 L468.5,2033.5 L470.9,2032.5 L473.1,2031.3 L475.4,2031.3 L477.6,2029.9 L479.9,2029.3 L482.1,2028.8 L484.4,2028.0 L486.6,2027.6 L488.9,2026.5 L491.1,2026.4 L493.3,2025.3 L495.6,2025.1 L497.8,2024.6 L500.1,2024.4 L502.3,2023.6 L504.6,2024.1 L506.8,2023.3 L509.1,2022.3 L511.3,2022.3 L513.7,2021.4 L516.1,2020.9 L518.6,2020.3 L521.0,2019.4 L523.4,2019.3 L525.8,2019.7 L528.1,2019.9 L530.5,2019.3 L532.9,2019.3 L535.2,2018.8 L537.6,2019.3 L541.6,2024.4 L545.7,2028.4 L549.7,2030.4 L549.7,2043.6 L553.7,2045.6 L554.7,2062.8 L557.2,2063.3 L559.8,2064.8 L562.8,2056.7 L565.3,2056.0 L567.9,2055.7 L569.9,2060.8 L572.5,2063.0 L575.0,2065.8 L579.0,2058.7 L580.0,2044.6 L582.7,2041.3 L585.4,2036.8 L588.1,2033.5 L591.2,2031.4 L594.2,2030.4 L597.2,2032.0 L600.2,2032.5 L603.2,2035.0 L606.3,2037.5 L610.3,2030.4 L611.3,2018.3 L613.7,2016.5 L616.0,2015.7 L618.4,2014.3 L620.8,2013.0 L623.1,2013.0 L625.5,2012.8 L627.9,2012.0 L630.2,2011.1 L632.6,2010.2 L635.0,2009.5 L637.4,2009.2 L639.9,2008.6 L642.3,2008.9 L644.7,2008.2 L647.1,2008.3 L649.4,2008.7 L651.8,2008.2 L654.1,2008.2 L656.5,2009.0 L658.9,2009.3 L661.2,2009.2 L663.6,2009.2 L665.9,2009.3 L668.3,2009.3 L670.6,2008.8 L673.0,2009.2 L675.5,2010.0 L678.0,2010.5 L680.6,2010.9 L683.1,2012.2 L687.0,2018.0 L691.3,2023.9 L694.1,2019.8 L697.0,2016.8 L699.8,2012.3 L702.6,2008.3 L704.9,2007.7 L707.1,2008.0 L709.4,2008.0 L711.7,2007.1 L713.9,2007.4 L716.2,2007.2 L718.5,2006.9 L720.7,2005.9 L723.0,2005.4 L725.3,2005.2 L727.5,2004.9 L729.8,2004.6 L732.1,2004.8 L734.3,2004.9 L736.6,2004.1 L738.8,2004.4 L741.1,2003.9 L743.3,2004.1 L745.5,2004.2 L747.8,2003.2 L750.0,2003.8 L752.2,2004.1 L754.5,2003.8 L756.7,2003.7 L758.9,2003.3 L761.2,2002.9 L763.4,2003.5 L765.6,2002.9 L767.9,2003.4 L770.1,2003.5 L772.3,2002.8 L774.6,2002.7 L776.8,2003.3 L779.0,2002.9 L781.3,2002.2 L783.5,2002.0 L785.8,2002.0 L788.0,2002.8 L790.2,2002.6 L792.5,2001.8 L794.7,2002.5 L796.9,2002.6 L799.2,2002.2 L801.4,2001.7 L803.6,2001.9 L805.9,2001.3 L808.1,2001.1 L810.3,2002.1 L812.6,2001.7 L814.8,2001.5 L817.0,2001.9 L819.3,2001.2 L821.5,2001.2 L823.9,2001.2 L826.4,2000.8 L828.8,1999.7 L831.2,1999.3 L833.6,1999.0 L836.1,1998.5 L838.5,1998.4 L840.9,1999.1 L843.4,1999.3 L845.8,2000.1 L848.2,2000.4 L850.6,2001.9 L853.1,2001.8 L855.5,2002.6 L857.7,2002.5 L859.9,2002.7 L862.1,2003.1 L864.3,2002.5 L866.5,2003.1 L868.7,2002.6 L870.9,2002.6 L873.1,2002.6 L875.3,2002.0 L877.5,2002.5 L879.7,2002.2 L881.9,2002.0 L884.1,2003.0 L886.3,2002.2 L888.5,2002.6 L890.7,2002.9 L892.9,2002.7 L895.1,2002.4 L897.3,2002.6 L899.5,2002.7 L901.7,2002.9 L903.9,2002.1 L906.1,2002.7 L908.3,2002.3 L910.5,2002.3 L912.7,2002.9 L914.9,2002.6 L917.1,2002.7 L919.3,2002.9 L921.5,2003.1 L923.7,2002.5 L925.9,2002.7 L928.1,2002.6 L930.3,2002.6 L932.5,2002.8 L934.7,2002.6 L936.9,2002.5 L939.2,2002.6 L941.4,2002.5 L943.6,2003.0 L945.9,2002.7 L948.1,2002.8 L950.4,2002.9 L952.6,2002.0 L954.8,2002.3 L957.1,2002.8 L959.3,2002.6 L961.5,2001.7 L963.8,2001.7 L966.0,2002.0 L968.3,2001.5 L970.5,2001.7 L972.7,2001.5 L975.0,2002.1 L977.2,2002.2 L979.4,2002.3 L981.7,2001.4 L983.9,2002.0 L986.1,2001.9 L988.4,2001.3 L990.6,2002.1 L992.9,2002.2 L995.1,2001.3 L997.3,2002.1 L999.6,2001.4 L1001.8,2001.5 L1004.0,2002.0 L1006.3,2001.8 L1008.5,2001.0 L1010.8,2001.3 L1013.0,2001.3 L1015.2,2001.1 L1017.5,2000.9 L1019.7,2001.2 L1022.1,2001.1 L1024.4,2001.7 L1026.8,2001.0 L1029.1,2001.7 L1031.5,2001.7 L1033.8,2001.3 L1036.2,2001.8 L1038.6,2002.3 L1040.9,2002.3 L1043.3,2001.8 L1045.6,2003.1 L1048.0,2002.6 L1050.3,2003.5 L1052.6,2004.2 L1054.9,2003.7 L1057.2,2004.4 L1059.5,2004.6 L1061.9,2006.0 L1064.2,2006.0 L1066.5,2006.3 L1068.8,2007.2 L1071.1,2008.3 L1073.4,2008.3 L1076.7,2009.6 L1080.0,2010.1 L1085.0,2012.2 L1088.9,2012.2 L1088.9,2023.3 L1088.1,2028.9 L1088.1,2085.6 L1092.2,2090.0 L1094.2,2181.9 L1099.2,2190.0 L1101.2,2210.2 L1104.3,2232.5 L1108.3,2202.1 L1108.3,2103.1 L1110.6,2060.0 L1110.6,2056.1 L1115.0,2055.0 L1117.2,2053.3 L1119.4,2054.4 L1119.4,2061.7 L1123.3,2061.7 L1123.3,2067.8 L1128.3,2067.8 L1128.3,2072.8 L1134.4,2069.4 L1137.2,2071.1 L1137.2,2086.1 L1141.1,2088.3 L1141.5,2200.0 L1143.3,2310.0 L1145.5,2200.0 L1145.6,2091.1 L1147.8,2090.0 L1151.7,2087.8 L1151.7,2084.4 L1154.4,2084.4 L1154.4,2075.6 L1157.2,2073.3 L1158.3,2058.9 L1161.1,2056.7 L1162.8,2056.7 L1163.3,2038.3 L1165.0,2037.2 L1168.9,2036.4 L1168.9,2028.3 L1174.0,2020.2 L1182.1,2015.2 L1189.2,2020.2 L1195.2,2024.3 L1196.2,2035.4 L1199.3,2026.3 L1206.3,2026.3 L1209.4,2035.4 L1210.4,2056.6 L1214.4,2057.6 L1215.4,2080.9 L1218.5,2099.0 L1221.5,2095.0 L1223.5,2080.9 L1224.5,2072.8 L1229.6,2068.7 L1235.6,2069.7 L1239.7,2074.8 L1240.7,2084.9 L1242.7,2068.7 L1244.7,2065.7 L1246.8,2076.8 L1249.8,2080.9 L1252.8,2068.7 L1257.9,2066.7 L1261.9,2072.8 L1262.9,2091.0 L1266.0,2099.0 L1269.0,2084.9 L1270.0,2062.7 L1275.1,2059.6 L1284.2,2060.6 L1288.2,2062.7 L1289.2,2076.8 L1292.3,2078.8 L1292.3,2139.5 L1296.3,2143.5 L1297.3,2173.8 L1301.3,2202.1 L1302.4,2175.9 L1305.4,2149.6 L1310.4,2147.6 L1312.5,2121.3 L1315.5,2119.3 L1315.5,2078.8 L1319.5,2076.8 L1319.5,2064.7 L1324.6,2062.7 L1332.7,2061.7 L1336.7,2066.7 L1340.8,2076.8 L1341.8,2088.9 L1344.8,2091.0 L1348.8,2088.9 L1349.9,2066.7 L1353.9,2065.7 L1358.9,2068.7 L1363.0,2069.7 L1365.0,2086.9 L1367.0,2101.1 L1371.1,2109.2 L1374.0,2113.1 L1377.8,2111.2 L1377.8,2062.3 L1381.7,2060.4 L1383.7,2050.6 L1385.6,2039.8 L1391.5,2035.9 L1397.4,2034.0 L1403.2,2036.9 L1407.1,2041.0 L1410.0,2043.0 L1411.0,2058.4 L1412.0,2046.0 L1414.9,2044.7 L1414.9,2025.2 L1428.6,2025.2 L1436.4,2030.1 L1448.2,2029.1 L1452.1,2021.3 L1456.0,2019.3 L1463.8,2012.5 L1471.6,2015.4 L1475.5,2027.1 L1479.4,2014.4 L1487.3,2011.5 L1495.1,2009.5 L1506.8,2012.5 L1514.6,2010.5 L1522.4,2015.4 L1526.3,2026.2 L1532.2,2021.3 L1534.2,2038.9 L1539.0,2087.7 L1542.0,2058.4 L1543.9,2019.3 L1551.7,2010.5 L1554.3,2010.6 L1557.0,2010.8 L1559.6,2011.5 L1563.5,2015.4 L1566.4,2008.6 L1569.3,2009.7 L1572.3,2009.9 L1575.2,2010.5 L1577.7,2011.7 L1580.1,2012.0 L1582.5,2013.0 L1585.0,2014.4 L1587.4,2014.4 L1589.9,2013.9 L1592.3,2013.3 L1594.8,2013.9 L1597.2,2013.3 L1599.6,2013.3 L1602.1,2012.3 L1604.5,2012.5 L1606.9,2012.2 L1609.4,2010.8 L1611.8,2011.0 L1614.2,2010.0 L1616.7,2009.3 L1619.1,2008.9 L1621.6,2008.6 L1624.0,2007.6 L1626.2,2007.4 L1628.5,2007.2 L1630.7,2007.6 L1633.0,2007.3 L1635.2,2007.2 L1637.5,2007.3 L1639.7,2007.6" fill="none" stroke="#c000b8" stroke-width="6.00" stroke-linejoin="round" stroke-linecap="butt"/>
<path d="M103.0,2138.5 L105.5,2138.0 L107.9,2140.4 L110.4,2138.3 L112.8,2140.2 L115.3,2138.8 L117.7,2139.5 L120.2,2140.5 L122.4,2142.1 L124.7,2140.1 L126.9,2141.6 L129.2,2141.3 L131.4,2141.5 L133.7,2141.8 L135.9,2141.2 L138.2,2143.2 L140.4,2142.5 L142.7,2141.5 L144.9,2142.1 L147.2,2141.7 L149.5,2142.5 L151.8,2143.1 L154.1,2144.7 L156.3,2143.4 L158.6,2143.9 L160.9,2143.7 L163.1,2145.1 L165.4,2148.1 L167.7,2147.6 L170.0,2145.4 L172.2,2145.9 L174.5,2144.2 L176.8,2143.5 L179.1,2144.7 L181.4,2144.5 L183.7,2146.2 L186.1,2146.4 L188.4,2147.6 L190.7,2149.0 L193.0,2148.6 L195.3,2149.0 L197.6,2147.8 L199.8,2147.8 L202.1,2150.3 L204.4,2149.2 L206.6,2148.5 L208.9,2150.7 L211.2,2149.6 L214.2,2151.8 L217.2,2153.6 L219.9,2155.6 L222.6,2157.4 L225.3,2157.7 L227.7,2158.1 L230.2,2159.3 L232.6,2161.8 L235.1,2160.7 L237.5,2162.7 L240.2,2164.5 L242.8,2163.6 L245.5,2165.8 L247.9,2166.1 L250.4,2165.9 L252.8,2166.4 L255.3,2165.9 L257.7,2164.7 L261.7,2173.8 L265.8,2181.9 L268.5,2180.6 L271.1,2178.4 L273.8,2177.9 L275.9,2188.0 L278.3,2187.8 L280.7,2189.7 L283.2,2190.4 L285.6,2190.0 L288.0,2192.0 L290.7,2193.8 L293.4,2193.4 L296.1,2194.1 L298.6,2197.1 L301.0,2198.2 L303.5,2201.4 L305.8,2202.8 L308.0,2204.3 L310.2,2206.6 L312.5,2208.3 L314.8,2210.3 L317.0,2212.2 L319.2,2213.6 L321.5,2215.8 L323.7,2217.4 L325.9,2218.0 L328.2,2219.9 L330.4,2221.6 L332.6,2222.3 L334.9,2224.1 L337.1,2225.7 L339.4,2225.7 L341.6,2227.6 L343.9,2228.4 L346.6,2228.8 L349.3,2229.1 L352.0,2230.8 L354.7,2231.1 L357.4,2230.7 L360.1,2230.2 L362.8,2230.4 L365.5,2230.3 L367.9,2229.2 L370.2,2228.7 L372.6,2228.0 L374.9,2227.2 L377.2,2226.7 L379.6,2225.5 L381.9,2224.5 L384.3,2224.3 L386.6,2223.2 L388.8,2222.6 L391.1,2222.7 L393.3,2221.9 L395.6,2221.9 L397.8,2221.0 L400.1,2220.7 L402.3,2220.5 L404.6,2218.7 L406.8,2218.0 L409.1,2217.7 L411.3,2217.6 L413.5,2216.8 L415.8,2216.5 L418.0,2216.1 L420.3,2215.0 L422.5,2215.3 L424.8,2213.3 L427.0,2213.9 L429.3,2212.4 L431.5,2212.7 L433.7,2210.9 L436.0,2211.7 L438.2,2210.8 L440.5,2210.5 L442.7,2209.3 L445.0,2208.1 L447.2,2208.7 L449.5,2207.3 L451.7,2206.8 L453.9,2205.5 L456.2,2205.6 L458.4,2204.8 L460.7,2204.1 L462.9,2203.0 L465.2,2202.2 L467.4,2202.2 L469.7,2201.4 L471.9,2200.2 L474.2,2200.0 L476.4,2199.7 L478.7,2199.0 L480.9,2198.0 L483.2,2197.2 L485.4,2196.5 L487.7,2195.7 L489.9,2194.9 L492.2,2194.7 L494.4,2194.2 L496.7,2193.3 L498.9,2193.7 L501.2,2193.2 L503.4,2192.6 L505.6,2191.3 L507.9,2191.4 L510.1,2191.0 L512.4,2190.1 L514.6,2190.9 L516.9,2190.1 L519.1,2189.3 L521.5,2189.1 L523.8,2189.3 L526.2,2188.4 L528.5,2188.3 L530.9,2188.5 L533.3,2188.7 L535.6,2188.4 L538.0,2188.0 L540.7,2189.5 L543.4,2192.6 L546.1,2194.7 L548.8,2205.5 L552.8,2208.2 L554.1,2219.0 L556.8,2218.9 L559.5,2217.6 L562.2,2212.2 L564.9,2212.2 L567.6,2212.1 L570.3,2211.9 L573.0,2210.9 L575.3,2207.8 L577.5,2205.2 L579.8,2202.8 L582.1,2201.2 L584.5,2200.1 L586.9,2197.5 L589.2,2196.0 L591.9,2196.3 L594.6,2195.8 L597.3,2195.0 L600.0,2194.7 L602.2,2193.1 L604.5,2191.7 L606.7,2189.3 L609.0,2187.5 L611.2,2184.5 L613.5,2182.6 L615.7,2182.4 L618.0,2180.8 L620.2,2180.4 L622.4,2180.5 L624.7,2179.7 L626.9,2178.5 L629.2,2177.8 L631.5,2177.3 L633.8,2177.3 L636.2,2177.2 L638.5,2176.5 L640.8,2176.4 L643.1,2175.3 L645.4,2175.7 L647.7,2175.8 L649.9,2175.6 L652.2,2175.3 L654.5,2175.4 L656.8,2175.5 L659.0,2175.6 L661.3,2176.1 L663.6,2175.3 L665.9,2175.1 L668.1,2176.0 L670.4,2175.4 L672.7,2175.8 L675.4,2176.4 L678.1,2176.6 L680.8,2178.3 L683.5,2178.5 L687.1,2181.0 L691.3,2188.0 L694.1,2182.7 L697.0,2178.1 L699.8,2175.0 L702.6,2172.5 L704.9,2172.5 L707.1,2171.6 L709.4,2170.8 L711.7,2171.2 L713.9,2170.0 L716.2,2169.5 L718.5,2169.8 L720.7,2169.1 L723.0,2168.6 L725.3,2167.4 L727.5,2167.7 L729.8,2167.0 L732.1,2166.8 L734.3,2165.7 L736.6,2165.4 L738.8,2165.5 L741.1,2165.2 L743.3,2164.3 L745.5,2164.4 L747.8,2164.3 L750.0,2164.3 L752.3,2163.9 L754.5,2163.4 L756.7,2162.2 L759.0,2162.6 L761.2,2162.4 L763.4,2161.2 L765.7,2161.4 L767.9,2161.7 L770.2,2161.5 L772.4,2161.2 L774.6,2159.7 L776.9,2160.1 L779.1,2159.7 L781.4,2160.0 L783.7,2159.6 L786.0,2158.9 L788.3,2158.3 L790.6,2159.4 L792.8,2159.1 L795.1,2158.7 L797.4,2158.1 L799.7,2158.6 L802.0,2158.4 L804.3,2158.1 L806.6,2157.7 L808.9,2157.2 L811.2,2156.9 L813.5,2156.9 L815.7,2156.6 L818.0,2156.7 L820.3,2156.0 L822.6,2156.7 L824.9,2156.0 L827.2,2156.0 L829.5,2154.6 L831.7,2153.7 L834.0,2153.0 L836.2,2152.1 L838.5,2151.2 L840.9,2152.0 L843.4,2151.5 L845.8,2152.1 L848.2,2152.6 L850.6,2152.8 L853.1,2154.0 L855.5,2154.1 L857.8,2153.3 L860.0,2152.9 L862.3,2153.3 L864.5,2153.3 L866.8,2153.1 L869.1,2152.4 L871.3,2151.8 L873.6,2152.3 L875.8,2151.8 L878.1,2151.2 L880.4,2151.0 L882.6,2151.0 L884.9,2151.3 L887.2,2151.2 L889.4,2151.0 L891.7,2149.7 L893.9,2149.8 L896.2,2149.7 L898.5,2149.2 L900.7,2149.9 L903.0,2148.7 L905.3,2149.7 L907.5,2149.1 L909.8,2149.0 L912.1,2148.6 L914.3,2149.1 L916.6,2148.5 L918.9,2148.7 L921.1,2148.6 L923.4,2148.1 L925.6,2148.3 L927.9,2147.5 L930.2,2147.1 L932.4,2147.6 L934.7,2147.0 L937.0,2146.9 L939.2,2146.4 L941.5,2146.7 L943.8,2146.3 L946.0,2145.6 L948.3,2146.4 L950.5,2145.8 L952.8,2146.3 L955.1,2145.5 L957.3,2145.9 L959.6,2144.8 L961.9,2144.5 L964.1,2144.8 L966.4,2145.0 L968.7,2144.9 L970.9,2144.5 L973.2,2143.5 L975.5,2143.8 L977.7,2143.1 L980.0,2143.4 L982.2,2144.0 L984.5,2143.0 L986.8,2143.3 L989.0,2143.0 L991.3,2142.7 L993.5,2142.0 L995.8,2142.5 L998.0,2141.4 L1000.2,2141.4 L1002.5,2141.7 L1004.7,2140.9 L1007.0,2141.8 L1009.2,2140.8 L1011.4,2140.9 L1013.7,2141.1 L1015.9,2139.7 L1018.1,2140.7 L1020.4,2139.2 L1022.6,2139.7 L1024.9,2139.6 L1027.1,2139.8 L1029.3,2138.7 L1031.6,2139.3 L1033.8,2138.5 L1036.2,2138.8 L1038.5,2138.6 L1040.9,2138.2 L1043.2,2138.3 L1045.6,2138.6 L1047.9,2138.6 L1050.3,2138.7 L1052.7,2139.3 L1055.0,2138.8 L1057.4,2139.2 L1059.7,2138.4 L1062.1,2139.1 L1064.3,2138.9 L1066.6,2140.0 L1068.8,2140.5 L1071.0,2140.0 L1073.3,2139.9 L1075.5,2140.5 L1077.8,2141.0 L1080.0,2141.5 L1086.1,2144.5 L1089.1,2153.6 L1090.1,2196.1 L1093.1,2200.1 L1094.2,2276.9 L1097.2,2280.0 L1097.2,2292.2 L1101.1,2294.4 L1103.9,2304.4 L1106.7,2300.0 L1110.6,2298.9 L1110.6,2208.2 L1112.3,2204.2 L1112.3,2181.9 L1117.4,2178.9 L1120.4,2185.0 L1121.4,2194.1 L1128.5,2194.1 L1132.2,2200.0 L1132.2,2210.0 L1136.7,2212.2 L1136.7,2415.6 L1138.9,2430.0 L1140.6,2444.4 L1141.1,2463.3 L1145.6,2463.3 L1146.1,2317.8 L1150.6,2306.7 L1150.6,2212.2 L1155.0,2210.0 L1155.0,2202.2 L1156.8,2194.1 L1160.9,2184.0 L1163.9,2179.9 L1164.9,2163.7 L1168.9,2159.7 L1168.9,2153.6 L1173.0,2146.6 L1182.1,2140.5 L1189.2,2144.5 L1195.2,2148.6 L1196.2,2155.7 L1201.3,2150.6 L1206.3,2151.6 L1209.4,2156.7 L1210.4,2171.8 L1214.4,2173.8 L1214.4,2191.0 L1218.5,2192.0 L1218.5,2209.2 L1221.5,2204.2 L1223.5,2196.1 L1229.6,2191.0 L1235.6,2190.0 L1239.7,2194.1 L1240.7,2201.1 L1243.7,2190.0 L1244.7,2188.0 L1247.8,2198.1 L1251.8,2200.1 L1252.8,2192.0 L1257.9,2190.0 L1261.9,2195.1 L1262.9,2215.3 L1266.0,2222.4 L1269.0,2212.2 L1270.0,2189.0 L1275.1,2182.9 L1280.1,2179.9 L1284.2,2179.9 L1288.2,2184.0 L1289.2,2192.0 L1293.3,2194.1 L1293.3,2238.5 L1297.3,2241.6 L1297.3,2279.0 L1301.3,2287.0 L1302.4,2268.8 L1305.4,2264.8 L1306.4,2242.6 L1310.4,2240.6 L1310.4,2222.4 L1314.5,2220.3 L1314.5,2190.0 L1318.5,2187.0 L1318.5,2177.9 L1324.6,2175.9 L1332.7,2173.8 L1337.7,2177.9 L1340.8,2184.0 L1340.8,2200.1 L1345.8,2201.1 L1348.8,2184.0 L1353.9,2179.9 L1358.9,2182.9 L1364.0,2182.9 L1365.0,2200.1 L1368.0,2212.2 L1371.1,2219.3 L1374.0,2220.6 L1377.8,2220.6 L1377.8,2179.6 L1381.7,2177.6 L1381.7,2169.8 L1389.5,2162.0 L1399.3,2163.0 L1405.2,2167.0 L1410.0,2170.0 L1411.0,2182.5 L1412.0,2172.0 L1414.9,2171.7 L1414.9,2155.1 L1422.8,2154.2 L1428.6,2150.2 L1446.2,2149.3 L1452.1,2142.4 L1461.8,2137.5 L1469.7,2140.5 L1475.5,2152.2 L1481.4,2139.5 L1495.1,2141.5 L1506.8,2146.3 L1515.6,2152.2 L1520.5,2165.9 L1526.3,2182.5 L1531.2,2177.6 L1534.2,2163.9 L1537.1,2175.7 L1539.0,2213.8 L1542.0,2177.6 L1543.9,2160.0 L1553.7,2160.0 L1561.5,2169.8 L1575.2,2172.7 L1585.0,2182.5 L1604.5,2191.3 L1624.0,2203.0 L1639.7,2216.7" fill="none" stroke="#0000ff" stroke-width="6.00" stroke-linejoin="round" stroke-linecap="butt"/>
</g>
<rect x="102.5" y="1468.5" width="1537.5" height="1243.2" fill="none" stroke="#000" stroke-width="7.0"/>
<line x1="102.5" y1="2711.7" x2="102.5" y2="2735.7" stroke="#000" stroke-width="7"/>
<line x1="322.1" y1="2711.7" x2="322.1" y2="2735.7" stroke="#000" stroke-width="7"/>
<line x1="541.8" y1="2711.7" x2="541.8" y2="2735.7" stroke="#000" stroke-width="7"/>
<line x1="761.4" y1="2711.7" x2="761.4" y2="2735.7" stroke="#000" stroke-width="7"/>
<line x1="981.1" y1="2711.7" x2="981.1" y2="2735.7" stroke="#000" stroke-width="7"/>
<line x1="1200.7" y1="2711.7" x2="1200.7" y2="2735.7" stroke="#000" stroke-width="7"/>
<line x1="1420.3" y1="2711.7" x2="1420.3" y2="2735.7" stroke="#000" stroke-width="7"/>
<line x1="1640.0" y1="2711.7" x2="1640.0" y2="2735.7" stroke="#000" stroke-width="7"/>
<line x1="212.3" y1="2711.7" x2="212.3" y2="2723.8" stroke="#000" stroke-width="7"/>
<line x1="432.0" y1="2711.7" x2="432.0" y2="2723.8" stroke="#000" stroke-width="7"/>
<line x1="651.6" y1="2711.7" x2="651.6" y2="2723.8" stroke="#000" stroke-width="7"/>
<line x1="871.2" y1="2711.7" x2="871.2" y2="2723.8" stroke="#000" stroke-width="7"/>
<line x1="1090.9" y1="2711.7" x2="1090.9" y2="2723.8" stroke="#000" stroke-width="7"/>
<line x1="1310.5" y1="2711.7" x2="1310.5" y2="2723.8" stroke="#000" stroke-width="7"/>
<line x1="1530.2" y1="2711.7" x2="1530.2" y2="2723.8" stroke="#000" stroke-width="7"/>
<line x1="329.6" y1="1528.9" x2="456.4" y2="1528.9" stroke="#525252" stroke-width="6.6" stroke-linecap="round"/>
<line x1="329.6" y1="1608.6" x2="456.4" y2="1608.6" stroke="#c000b8" stroke-width="6.6" stroke-linecap="round"/>
<line x1="955.5" y1="1528.5" x2="1083.2" y2="1528.5" stroke="#ff8000" stroke-width="6.6" stroke-linecap="round"/>
<line x1="955.5" y1="1608.6" x2="1083.2" y2="1608.6" stroke="#0000ff" stroke-width="6.6" stroke-linecap="round"/>
<text transform="translate(57.04,1365.68) scale(0.9391,1)" font-size="51.04">4000</text>
<text transform="translate(277.82,1365.68) scale(0.9391,1)" font-size="51.04">3500</text>
<text transform="translate(499.32,1365.68) scale(0.9391,1)" font-size="51.04">3000</text>
<text transform="translate(721.06,1365.68) scale(0.9391,1)" font-size="51.04">2500</text>
<text transform="translate(942.56,1365.68) scale(0.9391,1)" font-size="51.04">2000</text>
<text transform="translate(1162.86,1365.68) scale(0.9391,1)" font-size="51.04">1500</text>
<text transform="translate(1384.36,1365.68) scale(0.9391,1)" font-size="51.04">1000</text>
<text transform="translate(1618.57,1365.68) scale(0.9391,1)" font-size="51.04">500</text>
<text transform="translate(45.34,2786.01) scale(0.9781,1)" font-size="59.55">4000</text>
<text transform="translate(264.10,2786.01) scale(0.9781,1)" font-size="59.55">3500</text>
<text transform="translate(483.74,2786.01) scale(0.9781,1)" font-size="59.55">3000</text>
<text transform="translate(703.67,2786.01) scale(0.9781,1)" font-size="59.55">2500</text>
<text transform="translate(923.31,2786.01) scale(0.9781,1)" font-size="59.55">2000</text>
<text transform="translate(1141.50,2786.01) scale(0.9781,1)" font-size="59.55">1500</text>
<text transform="translate(1361.14,2786.01) scale(0.9781,1)" font-size="59.55">1000</text>
<text transform="translate(1596.21,2786.01) scale(0.9781,1)" font-size="59.55">500</text>
<text transform="translate(132.95,79.59) scale(0.9652,1)" font-size="60.83">a</text>
<text transform="translate(129.80,1538.84) scale(0.9752,1)" font-size="66.43">b</text>
<text transform="translate(517.66,102.30) scale(0.9337,1)" font-size="58.64">PBAT</text>
<text transform="translate(517.68,174.10) scale(0.9205,1)" font-size="58.64">PBAT/LNP-8</text>
<text transform="translate(1032.67,102.30) scale(0.9095,1)" font-size="59.70">PBAT/LNP-6</text>
<text transform="translate(1032.69,174.00) scale(0.9081,1)" font-size="59.09">PBAT/LNP-11</text>
<text transform="translate(492.83,1552.80) scale(0.9880,1)" font-size="64.49">Undegrded</text>
<text transform="translate(490.07,1632.40) scale(1.0100,1)" font-size="63.77">Degrded 60 d</text>
<text transform="translate(1099.97,1552.80) scale(0.9984,1)" font-size="64.49">Degrded 30 d</text>
<text transform="translate(1099.97,1632.40) scale(1.0097,1)" font-size="63.77">Degrded 90 d</text>
<text transform="translate(293.50,1103.63) scale(0.9226,1)" font-size="58.51">3430</text>
<text transform="translate(498.79,1066.06) scale(0.9242,1)" font-size="51.79">2960</text>
<text transform="translate(552.87,1155.43) scale(0.9130,1)" font-size="58.36">2860</text>
<text transform="translate(1040.83,1250.85) scale(0.9240,1)" font-size="57.35">1720</text>
<text transform="translate(1129.22,1196.49) scale(0.8807,1)" font-size="60.29">1630</text>
<text transform="translate(1162.45,1074.11) scale(0.8897,1)" font-size="59.26">1510</text>
<text transform="translate(1262.35,1228.53) scale(0.9031,1)" font-size="58.38">1270</text>
<text transform="translate(268.77,2442.67) scale(0.9713,1)" font-size="66.57">3430</text>
<text transform="translate(588.57,2394.20) scale(1.0093,1)" font-size="65.07">2860</text>
<text transform="translate(561.07,2509.00) scale(1.0093,1)" font-size="65.07">2930</text>
<text transform="translate(476.38,2635.97) scale(0.9858,1)" font-size="66.57">2960</text>
<text transform="translate(996.88,2505.31) scale(0.9849,1)" font-size="64.56">1720</text>
<text transform="translate(1159.61,2509.61) scale(0.9965,1)" font-size="64.56">1510</text>
<text transform="translate(1080.31,2635.51) scale(0.9988,1)" font-size="64.41">1730</text>
<text transform="translate(1251.61,2631.31) scale(0.9965,1)" font-size="64.56">1270</text>
<defs><clipPath id="clipxa"><rect x="0" y="0" width="1717" height="1446.5"/></clipPath></defs>
<text transform="translate(627.60,1444.46) scale(0.9290,1)" font-size="56.90">Wavenumbers</text>
<g clip-path="url(#clipxa)">
<text transform="translate(956.05,1444.46) scale(0.9463,1)" font-size="56.90">(</text>
<text transform="translate(973.09,1445.60) scale(0.9283,1)" font-size="56.90">cm</text>
<text transform="translate(1072.38,1444.46) scale(0.9463,1)" font-size="56.90">)</text>
</g>
<text transform="translate(1035.06,1423.83) scale(1.0784,1)" font-size="35.91">−</text>
<text transform="translate(1055.21,1424.00) scale(0.7718,1)" font-size="35.91">1</text>
<text transform="translate(601.80,2865.24) scale(1.0257,1)" font-size="62.96">Wavenumbers</text>
<text transform="translate(982.80,2865.80) scale(1.1119,1)" font-size="62.96">(</text>
<text transform="translate(1005.26,2865.80) scale(1.0073,1)" font-size="62.96">cm</text>
<text transform="translate(1127.70,2865.80) scale(1.1119,1)" font-size="62.96">)</text>
<text transform="translate(1080.23,2842.32) scale(1.0579,1)" font-size="44.85">−</text>
<text transform="translate(1107.01,2838.80) scale(0.8154,1)" font-size="44.85">1</text>
<text transform="translate(76.80,899.67) rotate(-90) scale(0.9594,1)" font-size="61.08">Transmittance</text>
<text transform="translate(76.80,535.52) rotate(-90) scale(1.1178,1)" font-size="51.92">(a.u.)</text>
<text transform="translate(75.20,2350.80) rotate(-90) scale(0.9701,1)" font-size="67.23">Transmittance</text>
<text transform="translate(75.20,1964.19) rotate(-90) scale(0.9613,1)" font-size="67.23">(a.u.)</text>
</svg></body></html>
